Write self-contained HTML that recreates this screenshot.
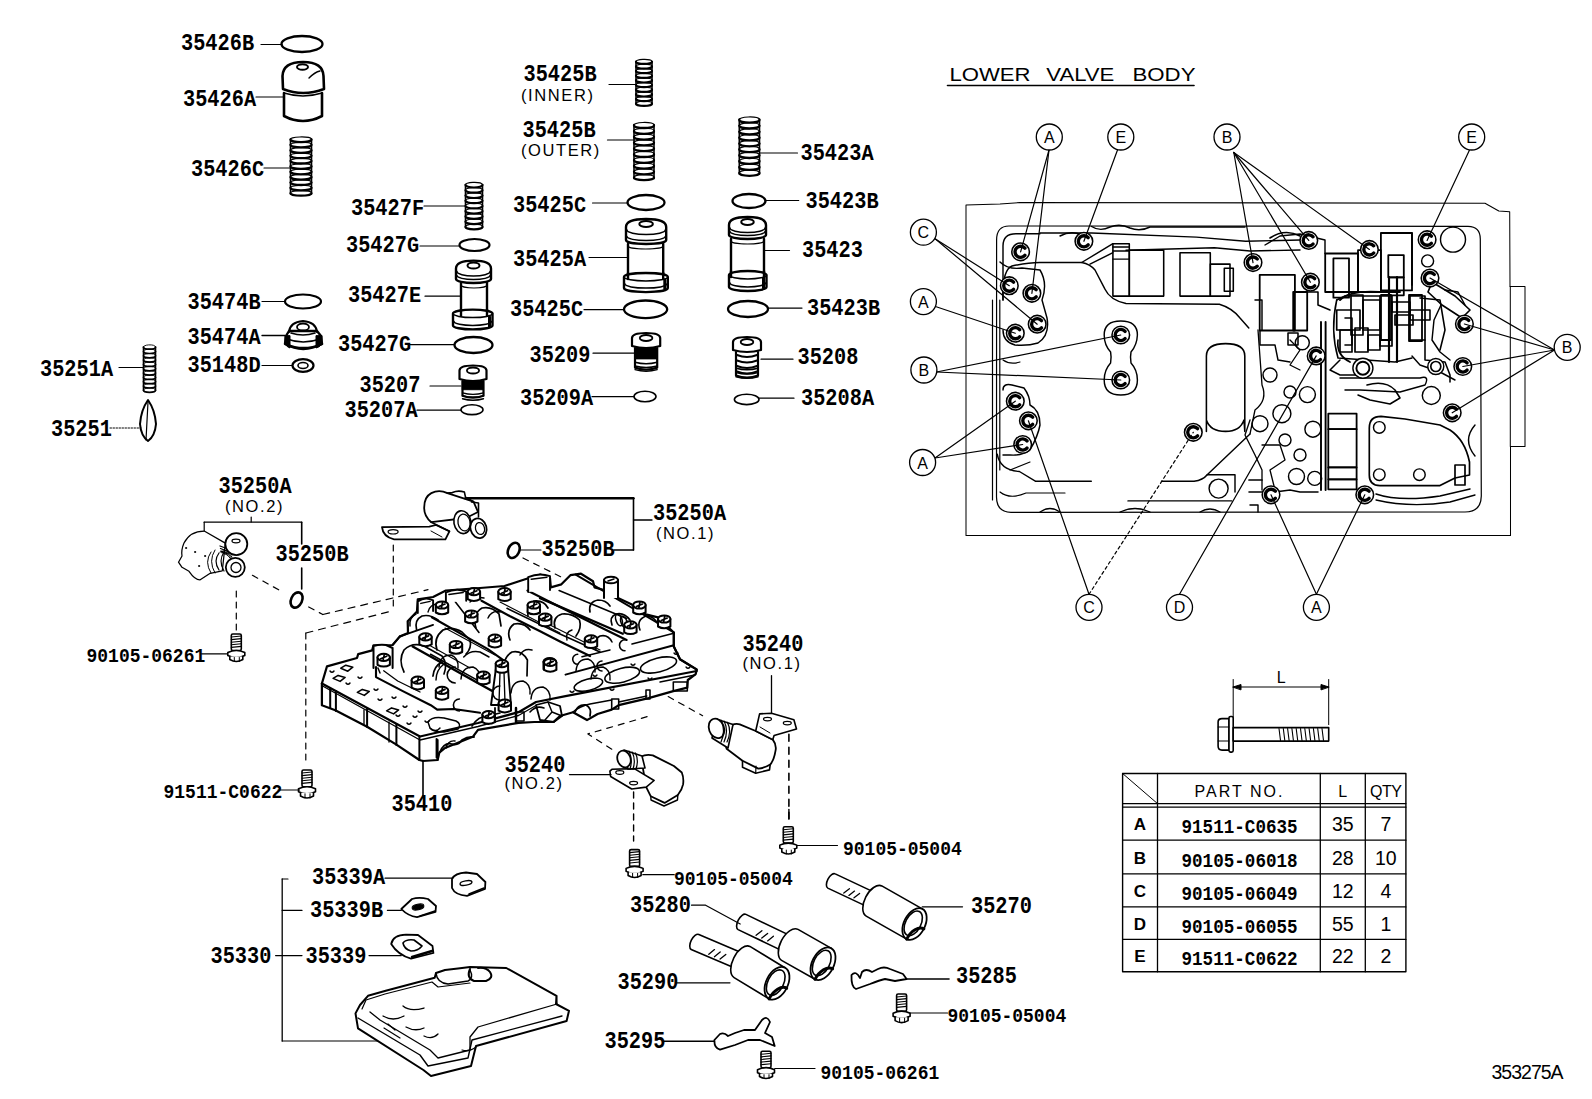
<!DOCTYPE html>
<html><head><meta charset="utf-8"><style>
html,body{margin:0;padding:0;background:#fff;}
svg{position:absolute;left:0;top:0;}
.m{font-family:"Liberation Mono",monospace;font-weight:bold;fill:#000;}
.t{font-family:"Liberation Sans",sans-serif;fill:#000;}
line,polyline,polygon,path,ellipse,rect,circle{stroke:#000;stroke-linecap:round;stroke-linejoin:round;}
text{stroke:none;}
</style></head><body>
<svg width="1592" height="1099" viewBox="0 0 1592 1099">

<text transform="translate(181.00,50.00) scale(1,1.22)" class="m" font-size="20.3">35426</text>
<text transform="translate(241.90,50.00) scale(1,1.08)" class="m" font-size="20.3">B</text>
<text transform="translate(183.00,106.00) scale(1,1.22)" class="m" font-size="20.3">35426</text>
<text transform="translate(243.90,106.00) scale(1,1.08)" class="m" font-size="20.3">A</text>
<text transform="translate(191.00,176.00) scale(1,1.22)" class="m" font-size="20.3">35426</text>
<text transform="translate(251.90,176.00) scale(1,1.08)" class="m" font-size="20.3">C</text>
<text transform="translate(351.00,215.00) scale(1,1.22)" class="m" font-size="20.3">35427</text>
<text transform="translate(411.90,215.00) scale(1,1.08)" class="m" font-size="20.3">F</text>
<text transform="translate(346.00,252.00) scale(1,1.22)" class="m" font-size="20.3">35427</text>
<text transform="translate(406.90,252.00) scale(1,1.08)" class="m" font-size="20.3">G</text>
<text transform="translate(348.00,302.00) scale(1,1.22)" class="m" font-size="20.3">35427</text>
<text transform="translate(408.90,302.00) scale(1,1.08)" class="m" font-size="20.3">E</text>
<text transform="translate(338.00,351.00) scale(1,1.22)" class="m" font-size="20.3">35427</text>
<text transform="translate(398.90,351.00) scale(1,1.08)" class="m" font-size="20.3">G</text>
<text transform="translate(359.50,392.00) scale(1,1.22)" class="m" font-size="20.3">35207</text>
<text transform="translate(344.50,416.50) scale(1,1.22)" class="m" font-size="20.3">35207</text>
<text transform="translate(405.40,416.50) scale(1,1.08)" class="m" font-size="20.3">A</text>
<text transform="translate(187.50,308.50) scale(1,1.22)" class="m" font-size="20.3">35474</text>
<text transform="translate(248.40,308.50) scale(1,1.08)" class="m" font-size="20.3">B</text>
<text transform="translate(187.50,343.50) scale(1,1.22)" class="m" font-size="20.3">35474</text>
<text transform="translate(248.40,343.50) scale(1,1.08)" class="m" font-size="20.3">A</text>
<text transform="translate(187.50,372.00) scale(1,1.22)" class="m" font-size="20.3">35148</text>
<text transform="translate(248.40,372.00) scale(1,1.08)" class="m" font-size="20.3">D</text>
<text transform="translate(40.00,376.00) scale(1,1.22)" class="m" font-size="20.3">35251</text>
<text transform="translate(100.90,376.00) scale(1,1.08)" class="m" font-size="20.3">A</text>
<text transform="translate(51.00,436.00) scale(1,1.22)" class="m" font-size="20.3">35251</text>
<text transform="translate(523.50,80.50) scale(1,1.22)" class="m" font-size="20.3">35425</text>
<text transform="translate(584.40,80.50) scale(1,1.08)" class="m" font-size="20.3">B</text>
<text transform="translate(522.50,137.00) scale(1,1.22)" class="m" font-size="20.3">35425</text>
<text transform="translate(583.40,137.00) scale(1,1.08)" class="m" font-size="20.3">B</text>
<text transform="translate(513.00,212.00) scale(1,1.22)" class="m" font-size="20.3">35425</text>
<text transform="translate(573.90,212.00) scale(1,1.08)" class="m" font-size="20.3">C</text>
<text transform="translate(513.00,265.50) scale(1,1.22)" class="m" font-size="20.3">35425</text>
<text transform="translate(573.90,265.50) scale(1,1.08)" class="m" font-size="20.3">A</text>
<text transform="translate(510.00,316.00) scale(1,1.22)" class="m" font-size="20.3">35425</text>
<text transform="translate(570.90,316.00) scale(1,1.08)" class="m" font-size="20.3">C</text>
<text transform="translate(529.50,362.00) scale(1,1.22)" class="m" font-size="20.3">35209</text>
<text transform="translate(520.00,404.50) scale(1,1.22)" class="m" font-size="20.3">35209</text>
<text transform="translate(580.90,404.50) scale(1,1.08)" class="m" font-size="20.3">A</text>
<text transform="translate(800.50,159.50) scale(1,1.22)" class="m" font-size="20.3">35423</text>
<text transform="translate(861.40,159.50) scale(1,1.08)" class="m" font-size="20.3">A</text>
<text transform="translate(805.50,208.00) scale(1,1.22)" class="m" font-size="20.3">35423</text>
<text transform="translate(866.40,208.00) scale(1,1.08)" class="m" font-size="20.3">B</text>
<text transform="translate(802.00,257.00) scale(1,1.22)" class="m" font-size="20.3">35423</text>
<text transform="translate(807.00,315.00) scale(1,1.22)" class="m" font-size="20.3">35423</text>
<text transform="translate(867.90,315.00) scale(1,1.08)" class="m" font-size="20.3">B</text>
<text transform="translate(797.50,364.00) scale(1,1.22)" class="m" font-size="20.3">35208</text>
<text transform="translate(801.00,405.00) scale(1,1.22)" class="m" font-size="20.3">35208</text>
<text transform="translate(861.90,405.00) scale(1,1.08)" class="m" font-size="20.3">A</text>
<text transform="translate(218.50,493.00) scale(1,1.22)" class="m" font-size="20.3">35250</text>
<text transform="translate(279.40,493.00) scale(1,1.08)" class="m" font-size="20.3">A</text>
<text transform="translate(275.50,561.00) scale(1,1.22)" class="m" font-size="20.3">35250</text>
<text transform="translate(336.40,561.00) scale(1,1.08)" class="m" font-size="20.3">B</text>
<text transform="translate(653.00,520.00) scale(1,1.22)" class="m" font-size="20.3">35250</text>
<text transform="translate(713.90,520.00) scale(1,1.08)" class="m" font-size="20.3">A</text>
<text transform="translate(541.50,555.50) scale(1,1.22)" class="m" font-size="20.3">35250</text>
<text transform="translate(602.40,555.50) scale(1,1.08)" class="m" font-size="20.3">B</text>
<text transform="translate(742.50,650.50) scale(1,1.22)" class="m" font-size="20.3">35240</text>
<text transform="translate(504.50,771.50) scale(1,1.22)" class="m" font-size="20.3">35240</text>
<text transform="translate(391.50,810.50) scale(1,1.22)" class="m" font-size="20.3">35410</text>
<text transform="translate(312.00,883.50) scale(1,1.22)" class="m" font-size="20.3">35339</text>
<text transform="translate(372.90,883.50) scale(1,1.08)" class="m" font-size="20.3">A</text>
<text transform="translate(310.00,916.50) scale(1,1.22)" class="m" font-size="20.3">35339</text>
<text transform="translate(370.90,916.50) scale(1,1.08)" class="m" font-size="20.3">B</text>
<text transform="translate(305.50,962.50) scale(1,1.22)" class="m" font-size="20.3">35339</text>
<text transform="translate(210.50,962.50) scale(1,1.22)" class="m" font-size="20.3">35330</text>
<text transform="translate(630.00,911.50) scale(1,1.22)" class="m" font-size="20.3">35280</text>
<text transform="translate(971.00,913.00) scale(1,1.22)" class="m" font-size="20.3">35270</text>
<text transform="translate(617.50,989.00) scale(1,1.22)" class="m" font-size="20.3">35290</text>
<text transform="translate(956.00,983.00) scale(1,1.22)" class="m" font-size="20.3">35285</text>
<text transform="translate(604.50,1047.50) scale(1,1.22)" class="m" font-size="20.3">35295</text>
<text transform="translate(86.50,662.00) scale(1,1.09)" class="m" font-size="18.0">90105-06261</text>
<text transform="translate(163.50,797.50) scale(1,1.09)" class="m" font-size="18.0">91511-</text>
<text transform="translate(228.30,797.50) scale(1,1.09)" class="m" font-size="18.0">C</text>
<text transform="translate(239.10,797.50) scale(1,1.09)" class="m" font-size="18.0">0622</text>
<text transform="translate(674.00,884.50) scale(1,1.09)" class="m" font-size="18.0">90105-05004</text>
<text transform="translate(843.00,855.00) scale(1,1.09)" class="m" font-size="18.0">90105-05004</text>
<text transform="translate(947.50,1021.50) scale(1,1.09)" class="m" font-size="18.0">90105-05004</text>
<text transform="translate(820.50,1078.50) scale(1,1.09)" class="m" font-size="18.0">90105-06261</text>
<text transform="translate(521.00,101.00) scale(1,1.0)" class="t" font-size="16.5" letter-spacing="1.6" word-spacing="0" text-anchor="start">(INNER)</text>
<text transform="translate(521.00,156.00) scale(1,1.0)" class="t" font-size="16.5" letter-spacing="1.6" word-spacing="0" text-anchor="start">(OUTER)</text>
<text transform="translate(225.00,511.50) scale(1,1.0)" class="t" font-size="16.5" letter-spacing="1.6" word-spacing="0" text-anchor="start">(NO.2)</text>
<text transform="translate(656.00,538.50) scale(1,1.0)" class="t" font-size="16.5" letter-spacing="1.6" word-spacing="0" text-anchor="start">(NO.1)</text>
<text transform="translate(742.50,668.50) scale(1,1.0)" class="t" font-size="16.5" letter-spacing="1.6" word-spacing="0" text-anchor="start">(NO.1)</text>
<text transform="translate(504.50,788.50) scale(1,1.0)" class="t" font-size="16.5" letter-spacing="1.6" word-spacing="0" text-anchor="start">(NO.2)</text>
<text class="t" x="949.5" y="80.5" font-size="18.5" textLength="81" lengthAdjust="spacingAndGlyphs">LOWER</text>
<text class="t" x="1046.3" y="80.5" font-size="18.5" textLength="68" lengthAdjust="spacingAndGlyphs">VALVE</text>
<text class="t" x="1132.5" y="80.5" font-size="18.5" textLength="63" lengthAdjust="spacingAndGlyphs">BODY</text>
<line x1="947.5" y1="85.5" x2="1194.0" y2="85.5" stroke-width="1.6"/>
<text transform="translate(1491.50,1078.50) scale(1,1.0)" class="t" font-size="19.5" letter-spacing="-1" word-spacing="0" text-anchor="start">353275A</text>
<line x1="261.0" y1="44.5" x2="282.0" y2="44.5" stroke-width="1.2"/>
<ellipse cx="302.0" cy="44.0" rx="20.5" ry="8.0" stroke-width="2.3" fill="none"/>
<line x1="256.0" y1="97.0" x2="284.0" y2="97.0" stroke-width="1.2"/>
<path d="M283,89 L282.5,76 Q283,62 303,62 Q323,62 323.5,76 L324,89 Q303,97 283,89 Z" stroke-width="2.6" fill="none"/>
<ellipse cx="302.5" cy="67.0" rx="5.5" ry="2.8" stroke-width="2.0" fill="none"/>
<path d="M309,78 Q315,72 320,71" stroke-width="1.4" fill="none"/>
<path d="M284,93 L284,116 Q303,126 322,116 L322,93" stroke-width="2.6" fill="none"/>
<path d="M284,93 Q303,99 322,93" stroke-width="1.4" fill="none"/>
<line x1="264.0" y1="168.0" x2="291.0" y2="168.0" stroke-width="1.2"/>
<path d="M290.5,139.7 A10.5,2.4 0 0 0 311.5,139.7" stroke-width="2.3" fill="none"/>
<path d="M290.5,139.7 A10.5,2.4 0 0 1 311.5,139.1" stroke-width="1.2" fill="none"/>
<path d="M290.5,145.0 A10.5,2.4 0 0 0 311.5,145.0" stroke-width="2.3" fill="none"/>
<path d="M290.5,145.0 A10.5,2.4 0 0 1 311.5,144.4" stroke-width="1.2" fill="none"/>
<path d="M290.5,150.4 A10.5,2.4 0 0 0 311.5,150.4" stroke-width="2.3" fill="none"/>
<path d="M290.5,150.4 A10.5,2.4 0 0 1 311.5,149.8" stroke-width="1.2" fill="none"/>
<path d="M290.5,155.8 A10.5,2.4 0 0 0 311.5,155.8" stroke-width="2.3" fill="none"/>
<path d="M290.5,155.8 A10.5,2.4 0 0 1 311.5,155.2" stroke-width="1.2" fill="none"/>
<path d="M290.5,161.1 A10.5,2.4 0 0 0 311.5,161.1" stroke-width="2.3" fill="none"/>
<path d="M290.5,161.1 A10.5,2.4 0 0 1 311.5,160.5" stroke-width="1.2" fill="none"/>
<path d="M290.5,166.5 A10.5,2.4 0 0 0 311.5,166.5" stroke-width="2.3" fill="none"/>
<path d="M290.5,166.5 A10.5,2.4 0 0 1 311.5,165.9" stroke-width="1.2" fill="none"/>
<path d="M290.5,171.9 A10.5,2.4 0 0 0 311.5,171.9" stroke-width="2.3" fill="none"/>
<path d="M290.5,171.9 A10.5,2.4 0 0 1 311.5,171.3" stroke-width="1.2" fill="none"/>
<path d="M290.5,177.2 A10.5,2.4 0 0 0 311.5,177.2" stroke-width="2.3" fill="none"/>
<path d="M290.5,177.2 A10.5,2.4 0 0 1 311.5,176.6" stroke-width="1.2" fill="none"/>
<path d="M290.5,182.6 A10.5,2.4 0 0 0 311.5,182.6" stroke-width="2.3" fill="none"/>
<path d="M290.5,182.6 A10.5,2.4 0 0 1 311.5,182.0" stroke-width="1.2" fill="none"/>
<path d="M290.5,188.0 A10.5,2.4 0 0 0 311.5,188.0" stroke-width="2.3" fill="none"/>
<path d="M290.5,188.0 A10.5,2.4 0 0 1 311.5,187.4" stroke-width="1.2" fill="none"/>
<path d="M290.5,193.3 A10.5,2.4 0 0 0 311.5,193.3" stroke-width="2.3" fill="none"/>
<path d="M290.5,193.3 A10.5,2.4 0 0 1 311.5,192.7" stroke-width="1.2" fill="none"/>
<line x1="290.5" y1="139.0" x2="290.5" y2="194.0" stroke-width="1.6"/>
<line x1="311.5" y1="139.0" x2="311.5" y2="194.0" stroke-width="1.6"/>
<line x1="424.0" y1="206.0" x2="465.0" y2="206.0" stroke-width="1.2"/>
<path d="M465.5,185.1 A8.5,2.4 0 0 0 482.5,185.1" stroke-width="2.18" fill="none"/>
<path d="M465.5,185.1 A8.5,2.4 0 0 1 482.5,184.5" stroke-width="1.14" fill="none"/>
<path d="M465.5,190.3 A8.5,2.4 0 0 0 482.5,190.3" stroke-width="2.18" fill="none"/>
<path d="M465.5,190.3 A8.5,2.4 0 0 1 482.5,189.7" stroke-width="1.14" fill="none"/>
<path d="M465.5,195.6 A8.5,2.4 0 0 0 482.5,195.6" stroke-width="2.18" fill="none"/>
<path d="M465.5,195.6 A8.5,2.4 0 0 1 482.5,195.0" stroke-width="1.14" fill="none"/>
<path d="M465.5,200.8 A8.5,2.4 0 0 0 482.5,200.8" stroke-width="2.18" fill="none"/>
<path d="M465.5,200.8 A8.5,2.4 0 0 1 482.5,200.2" stroke-width="1.14" fill="none"/>
<path d="M465.5,206.0 A8.5,2.4 0 0 0 482.5,206.0" stroke-width="2.18" fill="none"/>
<path d="M465.5,206.0 A8.5,2.4 0 0 1 482.5,205.4" stroke-width="1.14" fill="none"/>
<path d="M465.5,211.2 A8.5,2.4 0 0 0 482.5,211.2" stroke-width="2.18" fill="none"/>
<path d="M465.5,211.2 A8.5,2.4 0 0 1 482.5,210.6" stroke-width="1.14" fill="none"/>
<path d="M465.5,216.4 A8.5,2.4 0 0 0 482.5,216.4" stroke-width="2.18" fill="none"/>
<path d="M465.5,216.4 A8.5,2.4 0 0 1 482.5,215.8" stroke-width="1.14" fill="none"/>
<path d="M465.5,221.7 A8.5,2.4 0 0 0 482.5,221.7" stroke-width="2.18" fill="none"/>
<path d="M465.5,221.7 A8.5,2.4 0 0 1 482.5,221.1" stroke-width="1.14" fill="none"/>
<path d="M465.5,226.9 A8.5,2.4 0 0 0 482.5,226.9" stroke-width="2.18" fill="none"/>
<path d="M465.5,226.9 A8.5,2.4 0 0 1 482.5,226.3" stroke-width="1.14" fill="none"/>
<line x1="465.5" y1="184.5" x2="465.5" y2="227.5" stroke-width="1.6"/>
<line x1="482.5" y1="184.5" x2="482.5" y2="227.5" stroke-width="1.6"/>
<line x1="420.0" y1="246.0" x2="459.5" y2="246.0" stroke-width="1.2"/>
<ellipse cx="474.5" cy="245.0" rx="15.0" ry="6.0" stroke-width="2.2" fill="none"/>
<line x1="425.0" y1="296.2" x2="460.0" y2="296.2" stroke-width="1.2"/>
<path d="M456,279 L456,268.6 Q456,260.6 473.5,260.6 Q491,260.6 491,268.6 L491,279 A17.5,4 0 0 1 456,279 Z" stroke-width="2.4" fill="#fff"/>
<ellipse cx="473.5" cy="265.6" rx="6.0" ry="3.0" stroke-width="2.0" fill="none"/>
<path d="M457,271.6 A16.5,4.5 0 0 0 490,271.6" stroke-width="1.5" fill="none"/>
<path d="M457,275.5 A16.5,4 0 0 0 490,275.5" stroke-width="1.4" fill="none"/>
<line x1="461.0" y1="283.0" x2="461.0" y2="311.6" stroke-width="2.4"/>
<line x1="487.0" y1="283.0" x2="487.0" y2="311.6" stroke-width="2.4"/>
<path d="M461,285 A13.0,3 0 0 0 487,285" stroke-width="1.2" fill="none"/>
<path d="M453,313.6 A19.75,4 0 0 1 492.5,313.6 L492.5,325.4 A19.75,4 0 0 1 453,325.4 Z" stroke-width="2.4" fill="#fff"/>
<path d="M453,313.6 A19.75,4 0 0 0 492.5,313.6" stroke-width="1.5" fill="none"/>
<path d="M454,321.4 A18.75,4 0 0 0 491.5,321.4" stroke-width="1.5" fill="none"/>
<path d="M489.5,316.6 L489.5,326.4" stroke-width="3.0" fill="none"/>
<line x1="461.0" y1="309.6" x2="461.0" y2="315.6" stroke-width="2.4"/>
<line x1="487.0" y1="309.6" x2="487.0" y2="315.6" stroke-width="2.4"/>
<line x1="410.0" y1="344.7" x2="454.5" y2="344.7" stroke-width="1.2"/>
<ellipse cx="473.5" cy="345.0" rx="19.0" ry="8.0" stroke-width="2.3" fill="none"/>
<line x1="430.0" y1="386.0" x2="461.0" y2="386.0" stroke-width="1.2"/>
<path d="M459.5,379 L459.5,370.5 Q459.5,365.5 473.0,365.5 Q486.5,365.5 486.5,370.5 L486.5,379 Q473.0,383 459.5,379 Z" stroke-width="2.2" fill="none"/>
<ellipse cx="473.0" cy="370.5" rx="6.1" ry="3.0" stroke-width="1.8" fill="none"/>
<path d="M462.5,381 L462.5,395.7 Q473.0,399.7 483.5,395.7 L483.5,381" stroke-width="2.2" fill="none"/>
<rect x="462.5" y="381.0" width="21.0" height="8.9" rx="0" stroke-width="0.5" fill="#000"/>
<path d="M462.5,392.85 Q473.0,395.85 483.5,392.85" stroke-width="1.4" fill="none"/>
<path d="M462.5,395.805 Q473.0,398.805 483.5,395.805" stroke-width="1.4" fill="none"/>
<path d="M462.5,398.76 Q473.0,401.76 483.5,398.76" stroke-width="1.4" fill="none"/>
<line x1="417.0" y1="410.2" x2="461.0" y2="410.2" stroke-width="1.2"/>
<ellipse cx="472.0" cy="409.7" rx="11.0" ry="4.9" stroke-width="1.6" fill="none"/>
<line x1="262.0" y1="301.5" x2="285.0" y2="301.5" stroke-width="1.2"/>
<ellipse cx="303.0" cy="301.5" rx="18.0" ry="7.0" stroke-width="2.2" fill="none"/>
<line x1="262.0" y1="335.5" x2="285.0" y2="335.5" stroke-width="1.4"/>
<path d="M289,332 Q290,322 303,321 Q316,322 317,332" stroke-width="2.2" fill="none"/>
<ellipse cx="303.0" cy="327.0" rx="6.0" ry="3.5" stroke-width="1.8" fill="none"/>
<path d="M286,336 L289,331 L317,331 L321,336 L322,344 Q303,354 285,344 Z" stroke-width="2.4" fill="none"/>
<path d="M285,336 L285,344 Q287,347 290,348 L290,336 Z" stroke-width="1.0" fill="#000"/>
<path d="M322,336 L322,344 Q320,347 316,348 L316,336 Z" stroke-width="1.0" fill="#000"/>
<path d="M287,339 Q303,345 320,339" stroke-width="1.6" fill="none"/>
<path d="M286,344 Q303,352 322,344" stroke-width="2.4" fill="none"/>
<path d="M291,333 Q303,337 315,333" stroke-width="1.6" fill="none"/>
<line x1="262.0" y1="365.5" x2="292.0" y2="365.5" stroke-width="1.2"/>
<ellipse cx="303.0" cy="365.5" rx="10.5" ry="6.3" stroke-width="2.2" fill="none"/>
<ellipse cx="303.0" cy="365.5" rx="5.0" ry="3.0" stroke-width="1.6" fill="none"/>
<line x1="119.0" y1="367.5" x2="143.0" y2="367.5" stroke-width="1.2"/>
<path d="M143.5,347.2 A6.0,2.0 0 0 0 155.5,347.2" stroke-width="1.72" fill="none"/>
<path d="M143.5,347.2 A6.0,2.0 0 0 1 155.5,346.6" stroke-width="0.9" fill="none"/>
<path d="M143.5,351.5 A6.0,2.0 0 0 0 155.5,351.5" stroke-width="1.72" fill="none"/>
<path d="M143.5,351.5 A6.0,2.0 0 0 1 155.5,350.9" stroke-width="0.9" fill="none"/>
<path d="M143.5,355.8 A6.0,2.0 0 0 0 155.5,355.8" stroke-width="1.72" fill="none"/>
<path d="M143.5,355.8 A6.0,2.0 0 0 1 155.5,355.2" stroke-width="0.9" fill="none"/>
<path d="M143.5,360.1 A6.0,2.0 0 0 0 155.5,360.1" stroke-width="1.72" fill="none"/>
<path d="M143.5,360.1 A6.0,2.0 0 0 1 155.5,359.5" stroke-width="0.9" fill="none"/>
<path d="M143.5,364.4 A6.0,2.0 0 0 0 155.5,364.4" stroke-width="1.72" fill="none"/>
<path d="M143.5,364.4 A6.0,2.0 0 0 1 155.5,363.8" stroke-width="0.9" fill="none"/>
<path d="M143.5,368.8 A6.0,2.0 0 0 0 155.5,368.8" stroke-width="1.72" fill="none"/>
<path d="M143.5,368.8 A6.0,2.0 0 0 1 155.5,368.1" stroke-width="0.9" fill="none"/>
<path d="M143.5,373.1 A6.0,2.0 0 0 0 155.5,373.1" stroke-width="1.72" fill="none"/>
<path d="M143.5,373.1 A6.0,2.0 0 0 1 155.5,372.5" stroke-width="0.9" fill="none"/>
<path d="M143.5,377.4 A6.0,2.0 0 0 0 155.5,377.4" stroke-width="1.72" fill="none"/>
<path d="M143.5,377.4 A6.0,2.0 0 0 1 155.5,376.8" stroke-width="0.9" fill="none"/>
<path d="M143.5,381.7 A6.0,2.0 0 0 0 155.5,381.7" stroke-width="1.72" fill="none"/>
<path d="M143.5,381.7 A6.0,2.0 0 0 1 155.5,381.1" stroke-width="0.9" fill="none"/>
<path d="M143.5,386.0 A6.0,2.0 0 0 0 155.5,386.0" stroke-width="1.72" fill="none"/>
<path d="M143.5,386.0 A6.0,2.0 0 0 1 155.5,385.4" stroke-width="0.9" fill="none"/>
<path d="M143.5,390.3 A6.0,2.0 0 0 0 155.5,390.3" stroke-width="1.72" fill="none"/>
<path d="M143.5,390.3 A6.0,2.0 0 0 1 155.5,389.7" stroke-width="0.9" fill="none"/>
<line x1="143.5" y1="347.0" x2="143.5" y2="390.5" stroke-width="1.6"/>
<line x1="155.5" y1="347.0" x2="155.5" y2="390.5" stroke-width="1.6"/>
<line x1="110.0" y1="428.0" x2="141.0" y2="428.0" stroke-width="1.0" stroke-dasharray="1.5 1.5"/>
<path d="M148,400 Q141,410 140,424 Q141,436 148,441 Q155,436 156,424 Q155,410 148,400 Z" stroke-width="2.0" fill="none"/>
<path d="M148,402 L146,440" stroke-width="1.2" fill="none"/>
<line x1="609.0" y1="84.5" x2="636.0" y2="84.5" stroke-width="1.2"/>
<path d="M636.0,61.8 A8.0,2.1 0 0 0 652.0,61.8" stroke-width="2.18" fill="none"/>
<path d="M636.0,61.8 A8.0,2.1 0 0 1 652.0,61.2" stroke-width="1.14" fill="none"/>
<path d="M636.0,66.5 A8.0,2.1 0 0 0 652.0,66.5" stroke-width="2.18" fill="none"/>
<path d="M636.0,66.5 A8.0,2.1 0 0 1 652.0,65.9" stroke-width="1.14" fill="none"/>
<path d="M636.0,71.1 A8.0,2.1 0 0 0 652.0,71.1" stroke-width="2.18" fill="none"/>
<path d="M636.0,71.1 A8.0,2.1 0 0 1 652.0,70.5" stroke-width="1.14" fill="none"/>
<path d="M636.0,75.8 A8.0,2.1 0 0 0 652.0,75.8" stroke-width="2.18" fill="none"/>
<path d="M636.0,75.8 A8.0,2.1 0 0 1 652.0,75.2" stroke-width="1.14" fill="none"/>
<path d="M636.0,80.4 A8.0,2.1 0 0 0 652.0,80.4" stroke-width="2.18" fill="none"/>
<path d="M636.0,80.4 A8.0,2.1 0 0 1 652.0,79.8" stroke-width="1.14" fill="none"/>
<path d="M636.0,85.1 A8.0,2.1 0 0 0 652.0,85.1" stroke-width="2.18" fill="none"/>
<path d="M636.0,85.1 A8.0,2.1 0 0 1 652.0,84.5" stroke-width="1.14" fill="none"/>
<path d="M636.0,89.7 A8.0,2.1 0 0 0 652.0,89.7" stroke-width="2.18" fill="none"/>
<path d="M636.0,89.7 A8.0,2.1 0 0 1 652.0,89.1" stroke-width="1.14" fill="none"/>
<path d="M636.0,94.4 A8.0,2.1 0 0 0 652.0,94.4" stroke-width="2.18" fill="none"/>
<path d="M636.0,94.4 A8.0,2.1 0 0 1 652.0,93.8" stroke-width="1.14" fill="none"/>
<path d="M636.0,99.0 A8.0,2.1 0 0 0 652.0,99.0" stroke-width="2.18" fill="none"/>
<path d="M636.0,99.0 A8.0,2.1 0 0 1 652.0,98.4" stroke-width="1.14" fill="none"/>
<path d="M636.0,103.7 A8.0,2.1 0 0 0 652.0,103.7" stroke-width="2.18" fill="none"/>
<path d="M636.0,103.7 A8.0,2.1 0 0 1 652.0,103.1" stroke-width="1.14" fill="none"/>
<line x1="636.0" y1="61.5" x2="636.0" y2="104.0" stroke-width="1.6"/>
<line x1="652.0" y1="61.5" x2="652.0" y2="104.0" stroke-width="1.6"/>
<line x1="607.5" y1="140.0" x2="634.5" y2="140.0" stroke-width="1.2"/>
<path d="M634.0,125.4 A10.0,2.6 0 0 0 654.0,125.4" stroke-width="2.3" fill="none"/>
<path d="M634.0,125.4 A10.0,2.6 0 0 1 654.0,124.8" stroke-width="1.2" fill="none"/>
<path d="M634.0,131.2 A10.0,2.6 0 0 0 654.0,131.2" stroke-width="2.3" fill="none"/>
<path d="M634.0,131.2 A10.0,2.6 0 0 1 654.0,130.6" stroke-width="1.2" fill="none"/>
<path d="M634.0,137.0 A10.0,2.6 0 0 0 654.0,137.0" stroke-width="2.3" fill="none"/>
<path d="M634.0,137.0 A10.0,2.6 0 0 1 654.0,136.4" stroke-width="1.2" fill="none"/>
<path d="M634.0,142.8 A10.0,2.6 0 0 0 654.0,142.8" stroke-width="2.3" fill="none"/>
<path d="M634.0,142.8 A10.0,2.6 0 0 1 654.0,142.2" stroke-width="1.2" fill="none"/>
<path d="M634.0,148.6 A10.0,2.6 0 0 0 654.0,148.6" stroke-width="2.3" fill="none"/>
<path d="M634.0,148.6 A10.0,2.6 0 0 1 654.0,148.0" stroke-width="1.2" fill="none"/>
<path d="M634.0,154.4 A10.0,2.6 0 0 0 654.0,154.4" stroke-width="2.3" fill="none"/>
<path d="M634.0,154.4 A10.0,2.6 0 0 1 654.0,153.8" stroke-width="1.2" fill="none"/>
<path d="M634.0,160.2 A10.0,2.6 0 0 0 654.0,160.2" stroke-width="2.3" fill="none"/>
<path d="M634.0,160.2 A10.0,2.6 0 0 1 654.0,159.6" stroke-width="1.2" fill="none"/>
<path d="M634.0,166.0 A10.0,2.6 0 0 0 654.0,166.0" stroke-width="2.3" fill="none"/>
<path d="M634.0,166.0 A10.0,2.6 0 0 1 654.0,165.4" stroke-width="1.2" fill="none"/>
<path d="M634.0,171.8 A10.0,2.6 0 0 0 654.0,171.8" stroke-width="2.3" fill="none"/>
<path d="M634.0,171.8 A10.0,2.6 0 0 1 654.0,171.2" stroke-width="1.2" fill="none"/>
<path d="M634.0,177.6 A10.0,2.6 0 0 0 654.0,177.6" stroke-width="2.3" fill="none"/>
<path d="M634.0,177.6 A10.0,2.6 0 0 1 654.0,177.0" stroke-width="1.2" fill="none"/>
<line x1="634.0" y1="124.5" x2="634.0" y2="178.5" stroke-width="1.6"/>
<line x1="654.0" y1="124.5" x2="654.0" y2="178.5" stroke-width="1.6"/>
<line x1="592.5" y1="203.0" x2="628.0" y2="203.0" stroke-width="1.2"/>
<ellipse cx="646.0" cy="202.5" rx="18.5" ry="7.5" stroke-width="2.3" fill="none"/>
<line x1="589.0" y1="257.5" x2="627.5" y2="257.5" stroke-width="1.2"/>
<path d="M626,240 L626,227 Q626,219 646.1,219 Q666.2,219 666.2,227 L666.2,240 A20.100000000000023,4 0 0 1 626,240 Z" stroke-width="2.4" fill="#fff"/>
<ellipse cx="646.1" cy="224.0" rx="6.8" ry="3.0" stroke-width="2.0" fill="none"/>
<path d="M627,230 A19.100000000000023,4.5 0 0 0 665.2,230" stroke-width="1.5" fill="none"/>
<path d="M627,236.5 A19.100000000000023,4 0 0 0 665.2,236.5" stroke-width="1.4" fill="none"/>
<line x1="628.0" y1="244.0" x2="628.0" y2="275.0" stroke-width="2.4"/>
<line x1="663.2" y1="244.0" x2="663.2" y2="275.0" stroke-width="2.4"/>
<path d="M628,246 A17.600000000000023,3 0 0 0 663.2,246" stroke-width="1.2" fill="none"/>
<path d="M624,277 A21.899999999999977,4 0 0 1 667.8,277 L667.8,288.1 A21.899999999999977,4 0 0 1 624,288.1 Z" stroke-width="2.4" fill="#fff"/>
<path d="M624,277 A21.899999999999977,4 0 0 0 667.8,277" stroke-width="1.5" fill="none"/>
<path d="M625,284.1 A20.899999999999977,4 0 0 0 666.8,284.1" stroke-width="1.5" fill="none"/>
<path d="M664.8,280 L664.8,289.1" stroke-width="3.0" fill="none"/>
<line x1="628.0" y1="273.0" x2="628.0" y2="279.0" stroke-width="2.4"/>
<line x1="663.2" y1="273.0" x2="663.2" y2="279.0" stroke-width="2.4"/>
<line x1="584.0" y1="309.7" x2="624.0" y2="309.7" stroke-width="1.2"/>
<ellipse cx="645.6" cy="309.3" rx="21.6" ry="8.8" stroke-width="2.3" fill="none"/>
<line x1="593.0" y1="353.2" x2="636.0" y2="353.2" stroke-width="1.2"/>
<path d="M632,346 L632,338 Q632,333 646.1,333 Q660.2,333 660.2,338 L660.2,346 Q646.1,350 632,346 Z" stroke-width="2.2" fill="none"/>
<ellipse cx="646.1" cy="338.0" rx="6.3" ry="3.0" stroke-width="1.8" fill="none"/>
<path d="M635,348 L635,367.6 Q646.1,371.6 657.2,367.6 L657.2,348" stroke-width="2.2" fill="none"/>
<rect x="635.0" y="348.0" width="22.2" height="11.1" rx="0" stroke-width="0.5" fill="#000"/>
<path d="M635,362.3 Q646.1,365.3 657.2,362.3" stroke-width="1.4" fill="none"/>
<path d="M635,365.99 Q646.1,368.99 657.2,365.99" stroke-width="1.4" fill="none"/>
<path d="M635,369.68 Q646.1,372.68 657.2,369.68" stroke-width="1.4" fill="none"/>
<line x1="592.0" y1="396.6" x2="634.0" y2="396.6" stroke-width="1.2"/>
<ellipse cx="645.0" cy="396.5" rx="11.0" ry="5.3" stroke-width="1.6" fill="none"/>
<path d="M739.3,120.0 A10.1,2.7 0 0 0 759.5,120.0" stroke-width="2.3" fill="none"/>
<path d="M739.3,120.0 A10.1,2.7 0 0 1 759.5,119.4" stroke-width="1.2" fill="none"/>
<path d="M739.3,125.8 A10.1,2.7 0 0 0 759.5,125.8" stroke-width="2.3" fill="none"/>
<path d="M739.3,125.8 A10.1,2.7 0 0 1 759.5,125.2" stroke-width="1.2" fill="none"/>
<path d="M739.3,131.8 A10.1,2.7 0 0 0 759.5,131.8" stroke-width="2.3" fill="none"/>
<path d="M739.3,131.8 A10.1,2.7 0 0 1 759.5,131.2" stroke-width="1.2" fill="none"/>
<path d="M739.3,137.7 A10.1,2.7 0 0 0 759.5,137.7" stroke-width="2.3" fill="none"/>
<path d="M739.3,137.7 A10.1,2.7 0 0 1 759.5,137.1" stroke-width="1.2" fill="none"/>
<path d="M739.3,143.6 A10.1,2.7 0 0 0 759.5,143.6" stroke-width="2.3" fill="none"/>
<path d="M739.3,143.6 A10.1,2.7 0 0 1 759.5,143.0" stroke-width="1.2" fill="none"/>
<path d="M739.3,149.4 A10.1,2.7 0 0 0 759.5,149.4" stroke-width="2.3" fill="none"/>
<path d="M739.3,149.4 A10.1,2.7 0 0 1 759.5,148.8" stroke-width="1.2" fill="none"/>
<path d="M739.3,155.3 A10.1,2.7 0 0 0 759.5,155.3" stroke-width="2.3" fill="none"/>
<path d="M739.3,155.3 A10.1,2.7 0 0 1 759.5,154.8" stroke-width="1.2" fill="none"/>
<path d="M739.3,161.2 A10.1,2.7 0 0 0 759.5,161.2" stroke-width="2.3" fill="none"/>
<path d="M739.3,161.2 A10.1,2.7 0 0 1 759.5,160.7" stroke-width="1.2" fill="none"/>
<path d="M739.3,167.2 A10.1,2.7 0 0 0 759.5,167.2" stroke-width="2.3" fill="none"/>
<path d="M739.3,167.2 A10.1,2.7 0 0 1 759.5,166.6" stroke-width="1.2" fill="none"/>
<path d="M739.3,173.1 A10.1,2.7 0 0 0 759.5,173.1" stroke-width="2.3" fill="none"/>
<path d="M739.3,173.1 A10.1,2.7 0 0 1 759.5,172.5" stroke-width="1.2" fill="none"/>
<line x1="739.3" y1="119.0" x2="739.3" y2="174.0" stroke-width="1.6"/>
<line x1="759.5" y1="119.0" x2="759.5" y2="174.0" stroke-width="1.6"/>
<line x1="760.0" y1="153.0" x2="797.5" y2="153.0" stroke-width="1.2"/>
<ellipse cx="749.0" cy="201.0" rx="16.5" ry="7.0" stroke-width="2.3" fill="none"/>
<line x1="765.5" y1="200.5" x2="798.7" y2="200.5" stroke-width="1.2"/>
<path d="M729,235 L729,225 Q729,217 747.5,217 Q766,217 766,225 L766,235 A18.5,4 0 0 1 729,235 Z" stroke-width="2.4" fill="#fff"/>
<ellipse cx="747.5" cy="222.0" rx="6.3" ry="3.0" stroke-width="2.0" fill="none"/>
<path d="M730,228 A17.5,4.5 0 0 0 765,228" stroke-width="1.5" fill="none"/>
<path d="M730,231.5 A17.5,4 0 0 0 765,231.5" stroke-width="1.4" fill="none"/>
<line x1="731.0" y1="239.0" x2="731.0" y2="273.0" stroke-width="2.4"/>
<line x1="764.0" y1="239.0" x2="764.0" y2="273.0" stroke-width="2.4"/>
<path d="M731,241 A16.5,3 0 0 0 764,241" stroke-width="1.2" fill="none"/>
<path d="M729,275 A18.75,4 0 0 1 766.5,275 L766.5,287 A18.75,4 0 0 1 729,287 Z" stroke-width="2.4" fill="#fff"/>
<path d="M729,275 A18.75,4 0 0 0 766.5,275" stroke-width="1.5" fill="none"/>
<path d="M730,283 A17.75,4 0 0 0 765.5,283" stroke-width="1.5" fill="none"/>
<path d="M763.5,278 L763.5,288" stroke-width="3.0" fill="none"/>
<line x1="731.0" y1="271.0" x2="731.0" y2="277.0" stroke-width="2.4"/>
<line x1="764.0" y1="271.0" x2="764.0" y2="277.0" stroke-width="2.4"/>
<line x1="764.0" y1="250.5" x2="789.5" y2="250.5" stroke-width="1.2"/>
<ellipse cx="748.0" cy="309.0" rx="20.0" ry="8.0" stroke-width="2.3" fill="none"/>
<line x1="768.0" y1="308.1" x2="802.0" y2="308.1" stroke-width="1.2"/>
<path d="M733,350 L733,342 Q733,337 747.0,337 Q761,337 761,342 L761,350 Q747.0,354 733,350 Z" stroke-width="2.2" fill="none"/>
<ellipse cx="747.0" cy="342.0" rx="6.3" ry="3.0" stroke-width="1.8" fill="none"/>
<path d="M736,352 L736,375.6 Q747.0,379.6 758,375.6 L758,352" stroke-width="2.2" fill="none"/>
<path d="M736,368.3 Q747.0,371.3 758,368.3" stroke-width="1.4" fill="none"/>
<path d="M736,372.59000000000003 Q747.0,375.59000000000003 758,372.59000000000003" stroke-width="1.4" fill="none"/>
<path d="M736,376.88 Q747.0,379.88 758,376.88" stroke-width="1.4" fill="none"/>
<path d="M737,355.0 Q747,359.0 757,355.0" stroke-width="2.0" fill="none"/>
<path d="M737,360.5 Q747,364.5 757,360.5" stroke-width="2.0" fill="none"/>
<path d="M737,366.0 Q747,370.0 757,366.0" stroke-width="2.0" fill="none"/>
<path d="M737,371.5 Q747,375.5 757,371.5" stroke-width="2.0" fill="none"/>
<line x1="761.0" y1="359.2" x2="793.0" y2="359.2" stroke-width="1.2"/>
<ellipse cx="746.7" cy="399.4" rx="12.3" ry="5.2" stroke-width="1.6" fill="none"/>
<line x1="759.0" y1="398.2" x2="794.0" y2="398.2" stroke-width="1.2"/>
<polygon points="321.9,683.5 327.0,666.3 357.0,658.0 358.2,654.2 372.2,650.4 373.5,645.3 392.6,645.0 399.6,636.6 408.0,633.0 407.7,621.3 417.0,611.5 417.8,599.4 433.1,597.0 445.9,590.5 466.2,589.0 480.0,588.0 504.5,586.0 528.2,578.2 540.3,574.5 550.0,578.2 550.8,587.3 561.4,584.3 570.4,575.2 581.0,573.7 593.0,581.2 594.5,587.3 604.0,590.0 618.0,598.0 630.8,603.9 645.8,614.4 657.9,617.4 673.8,632.5 673.8,646.5 680.0,659.3 696.7,669.5 695.7,674.1 687.8,680.0 687.3,687.6 673.3,691.1 648.6,698.1 618.7,705.2 611.7,709.6 597.6,714.0 587.0,720.1 573.0,712.2 560.0,716.0 553.7,721.9 534.3,722.0 518.5,722.8 478.0,729.8 472.8,736.8 445.0,748.0 439.3,752.7 437.6,760.0 423.0,761.0 419.4,760.0 396.4,744.6 367.1,726.8 335.3,710.3 321.9,705.2" stroke-width="2.24" fill="#fff"/>
<polyline points="321.9,683.5 420.0,736.5 478.0,723.0 518.5,712.2 536.0,702.0 565.5,696.2 696.7,671.0" stroke-width="2.24" fill="none"/>
<polyline points="323.5,686.5 420.0,740.0 478.0,726.5 518.5,715.5 536.0,705.5" stroke-width="1.34" fill="none"/>
<line x1="330.2" y1="688.0" x2="330.2" y2="708.0" stroke-width="2.02"/>
<line x1="335.9" y1="691.0" x2="335.9" y2="711.0" stroke-width="2.02"/>
<line x1="367.1" y1="708.0" x2="367.1" y2="727.0" stroke-width="2.02"/>
<line x1="396.4" y1="724.0" x2="396.4" y2="745.0" stroke-width="2.02"/>
<line x1="419.4" y1="737.0" x2="419.4" y2="760.0" stroke-width="2.02"/>
<line x1="436.6" y1="739.0" x2="436.6" y2="757.4" stroke-width="2.02"/>
<line x1="364.0" y1="710.0" x2="364.0" y2="724.0" stroke-width="1.34"/>
<line x1="389.0" y1="722.0" x2="389.0" y2="742.0" stroke-width="1.34"/>
<path d="M340.8,668.2 L345.8,665.2 L352.8,667.2 L347.8,671.2 Z" stroke-width="1.57" fill="none"/>
<path d="M333.1,678.4 L338.1,675.4 L345.1,677.4 L340.1,681.4 Z" stroke-width="1.57" fill="none"/>
<path d="M357.3,692.4 L362.3,689.4 L369.3,691.4 L364.3,695.4 Z" stroke-width="1.57" fill="none"/>
<path d="M386.6,710.9 L391.6,707.9 L398.6,709.9 L393.6,713.9 Z" stroke-width="1.57" fill="none"/>
<path d="M330,671 Q332,673.5 334,671" stroke-width="1.46" fill="none"/>
<path d="M346,683 Q348,685.5 350,683" stroke-width="1.46" fill="none"/>
<path d="M358,677 Q360,679.5 362,677" stroke-width="1.46" fill="none"/>
<path d="M374,689 Q376,691.5 378,689" stroke-width="1.46" fill="none"/>
<path d="M378,699 Q380,701.5 382,699" stroke-width="1.46" fill="none"/>
<path d="M392,697 Q394,699.5 396,697" stroke-width="1.46" fill="none"/>
<path d="M396,715 Q398,717.5 400,715" stroke-width="1.46" fill="none"/>
<path d="M403,706 Q405,708.5 407,706" stroke-width="1.46" fill="none"/>
<path d="M407,723 Q409,725.5 411,723" stroke-width="1.46" fill="none"/>
<path d="M413,716 Q415,718.5 417,716" stroke-width="1.46" fill="none"/>
<path d="M425,721 Q427,723.5 429,721" stroke-width="1.46" fill="none"/>
<path d="M418,711 Q420,713.5 422,711" stroke-width="1.46" fill="none"/>
<path d="M428,722 Q432,716 444,718 L456,721 Q462,724 458,729 L444,732 Q432,732 430,728 Z" stroke-width="1.46" fill="none"/>
<path d="M430,728 Q436,733 440,728" stroke-width="1.46" fill="none"/>
<path d="M373.5,668 L373.5,646 Q380,644 386,645 L392.6,648 L392.6,668" stroke-width="2.02" fill="#fff"/>
<path d="M377.5,657.3 L377.5,664.8 Q383.7,668.3 389.9,664.8 L389.9,657.3" stroke-width="2.02" fill="#fff"/>
<ellipse cx="383.7" cy="657.3" rx="6.2" ry="3.6" stroke-width="2.02" fill="#fff"/>
<path d="M380.7,658.8 L386.7,656.3 M384.2,654.8 L383.2,659.8" stroke-width="1.68" fill="none"/>
<line x1="378.0" y1="668.0" x2="380.0" y2="673.0" stroke-width="1.46"/>
<polyline points="376.0,667.0 376.0,677.1 402.8,691.1 430.8,705.2 437.2,709.6 453.8,709.0 480.0,712.8" stroke-width="2.13" fill="none"/>
<polyline points="383.7,670.8 397.7,681.0 420.0,692.0" stroke-width="1.34" fill="none"/>
<polyline points="400.0,636.3 433.1,624.9" stroke-width="1.79" fill="none"/>
<polyline points="392.6,645.0 400.0,636.3" stroke-width="1.79" fill="none"/>
<polyline points="412.7,646.5 476.4,682.2 505.0,698.0" stroke-width="2.46" fill="none"/>
<polyline points="430.6,654.2 476.4,679.6" stroke-width="1.57" fill="none"/>
<path d="M404,672 Q398,660 404,650 Q412,642 424,646 L442,656 Q448,664 444,674" stroke-width="1.68" fill="none"/>
<path d="M433,676 Q434,666 442,662" stroke-width="1.79" fill="none"/>
<path d="M436,680 Q436,670 444,664" stroke-width="1.46" fill="none"/>
<path d="M437,650 Q433,638 443,630 Q452,626 462,632 L470,640 Q472,648 466,654" stroke-width="1.68" fill="none"/>
<path d="M416.6,630 Q414,620 422,616 Q430,614 438,620" stroke-width="1.68" fill="none"/>
<path d="M410,626 Q409,617 416,614" stroke-width="1.46" fill="none"/>
<path d="M463.7,657 Q470,650 480,652 L489,657" stroke-width="1.46" fill="none"/>
<polyline points="431.8,617.2 487.9,649.1 505.7,661.8" stroke-width="2.13" fill="none"/>
<polyline points="453.5,599.4 479.0,632.5" stroke-width="1.57" fill="none"/>
<polyline points="481.5,600.7 509.6,616.0 540.1,631.2 560.0,641.4 590.0,656.0" stroke-width="2.24" fill="none"/>
<polyline points="507.0,608.3 560.0,634.0 600.0,652.0" stroke-width="1.57" fill="none"/>
<polyline points="527.4,590.5 560.0,607.0 600.0,627.0 626.6,640.0" stroke-width="2.13" fill="none"/>
<polyline points="540.0,598.1 622.8,633.8" stroke-width="2.24" fill="none"/>
<polyline points="559.1,590.5 626.6,618.5" stroke-width="1.57" fill="none"/>
<polyline points="575.7,574.6 673.8,632.5" stroke-width="2.02" fill="none"/>
<path d="M476,628 Q472,614 482,608 Q492,606 499,614 L501,626" stroke-width="1.68" fill="none"/>
<path d="M488,618 Q492,610 500,612" stroke-width="1.46" fill="none"/>
<path d="M510,640 Q506,630 514,624 Q524,622 530,630" stroke-width="1.68" fill="none"/>
<path d="M504.5,672 Q502,658 512,652 Q522,650 527.4,660 L527,676" stroke-width="1.68" fill="none"/>
<path d="M520,655 Q524,648 532,650" stroke-width="1.46" fill="none"/>
<path d="M528,616 Q526,606 534,601 Q544,600 548,608" stroke-width="1.68" fill="none"/>
<path d="M555,628 Q552,617 562,614 Q572,613 579.5,620 Q582,628 576,636" stroke-width="1.68" fill="none"/>
<path d="M567,640 Q565,632 572,630" stroke-width="1.46" fill="none"/>
<path d="M590,612 Q588,602 598,600 Q606,600 610,606" stroke-width="1.68" fill="none"/>
<path d="M612,625 Q609,617 616,614 Q624,612 630,620" stroke-width="1.68" fill="none"/>
<ellipse cx="619.0" cy="620.0" rx="3.0" ry="6.0" stroke-width="1.57" fill="none" transform="rotate(-20 619 620)"/>
<ellipse cx="624.0" cy="622.0" rx="3.0" ry="6.0" stroke-width="1.57" fill="none" transform="rotate(-20 624 622)"/>
<path d="M417.8,613 L417.8,601.4 Q425.45000000000005,596.4 433.1,600.4 L433.1,611" stroke-width="1.9" fill="#fff"/>
<path d="M420.8,603.4 L430.1,601.4" stroke-width="1.46" fill="none"/>
<path d="M445.9,602.8 L445.9,592.5 Q456.04999999999995,587.5 466.2,591.5 L466.2,600.8" stroke-width="1.9" fill="#fff"/>
<path d="M448.9,594.5 L463.2,592.5" stroke-width="1.46" fill="none"/>
<path d="M528.2,592 L528.2,577.2 Q539.1,572.2 550,576.2 L550,590" stroke-width="1.9" fill="#fff"/>
<path d="M531.2,579.2 L547,577.2" stroke-width="1.46" fill="none"/>
<path d="M496,668 L491,705 L511,705 L508,668" stroke-width="1.9" fill="#fff"/>
<line x1="500.0" y1="672.0" x2="499.0" y2="703.0" stroke-width="1.34"/>
<line x1="504.0" y1="672.0" x2="505.0" y2="703.0" stroke-width="1.34"/>
<polyline points="565.5,674.6 673.8,645.3" stroke-width="2.02" fill="none"/>
<polyline points="582.0,656.7 610.0,650.0" stroke-width="1.57" fill="none"/>
<polyline points="632.0,644.0 673.8,633.2" stroke-width="1.57" fill="none"/>
<line x1="673.8" y1="632.5" x2="673.8" y2="646.5" stroke-width="2.02"/>
<polyline points="673.8,646.5 680.0,659.3 696.7,669.5" stroke-width="2.02" fill="none"/>
<polyline points="695.0,675.0 660.0,682.0" stroke-width="1.34" fill="none"/>
<ellipse cx="588.4" cy="684.7" rx="14.6" ry="5.7" stroke-width="1.57" fill="none" transform="rotate(-14 588.4 684.7)"/>
<ellipse cx="622.2" cy="675.2" rx="17.8" ry="7.0" stroke-width="1.57" fill="none" transform="rotate(-14 622.2 675.2)"/>
<ellipse cx="658.5" cy="665.0" rx="18.5" ry="7.0" stroke-width="1.57" fill="none" transform="rotate(-14 658.5 665)"/>
<path d="M593,675 Q595,677.5 597,675" stroke-width="1.34" fill="none"/>
<path d="M610,689 Q612,691.5 614,689" stroke-width="1.34" fill="none"/>
<path d="M648,678 Q650,680.5 652,678" stroke-width="1.34" fill="none"/>
<path d="M674,653 Q676,655.5 678,653" stroke-width="1.34" fill="none"/>
<path d="M686,667 Q688,669.5 690,667" stroke-width="1.34" fill="none"/>
<path d="M631,664 Q633,666.5 635,664" stroke-width="1.34" fill="none"/>
<path d="M570,691 Q572,693.5 574,691" stroke-width="1.34" fill="none"/>
<path d="M440,752 Q444,742 452,744 Q458,746 462,740 Q468,736 474,737" stroke-width="1.79" fill="none"/>
<path d="M446,748 Q448,740 455,741" stroke-width="1.46" fill="none"/>
<line x1="437.6" y1="740.0" x2="437.6" y2="760.0" stroke-width="2.02"/>
<rect x="516.0" y="712.0" width="8.0" height="9.0" rx="0" stroke-width="1.57" fill="none"/>
<path d="M536,705 L548,702 L560,706 L562,716 L553.7,721.9 L540,720 Z" stroke-width="1.79" fill="none"/>
<path d="M548,702 L552,712 L562,716 M552,712 L545,720" stroke-width="1.46" fill="none"/>
<path d="M530,712 Q536,705 544,708" stroke-width="1.57" fill="none"/>
<path d="M575,712 Q578,704 586,705 Q592,708 590,716" stroke-width="1.79" fill="none"/>
<path d="M573,712 Q580,706 590,704 L611.7,700" stroke-width="1.57" fill="none"/>
<rect x="611.7" y="699.0" width="7.0" height="10.0" rx="0" stroke-width="1.57" fill="none"/>
<rect x="646.0" y="690.0" width="4.0" height="9.0" rx="0" stroke-width="1.57" fill="none"/>
<rect x="673.3" y="682.0" width="14.0" height="9.0" rx="0" stroke-width="1.57" fill="none"/>
<line x1="618.7" y1="702.0" x2="646.9" y2="696.0" stroke-width="1.34"/>
<path d="M472,726 Q478,716 488,716 L500,713" stroke-width="1.68" fill="none"/>
<line x1="488.4" y1="712.0" x2="488.4" y2="724.0" stroke-width="2.24"/>
<line x1="495.0" y1="708.0" x2="495.0" y2="722.0" stroke-width="1.79"/>
<line x1="516.0" y1="708.0" x2="516.0" y2="722.0" stroke-width="2.46"/>
<path d="M455.2,667 A8,8 0 1 0 455.2,683" stroke-width="1.57" fill="none"/>
<path d="M499.8,686 A7,7 0 1 0 499.8,700" stroke-width="1.57" fill="none"/>
<path d="M625.0,639.8 A5.5,5.5 0 1 0 625.0,650.8" stroke-width="1.57" fill="none"/>
<path d="M577.7,654.3 A5,5 0 1 0 577.7,664.3" stroke-width="1.57" fill="none"/>
<path d="M459.4,699 A6,6 0 1 0 459.4,711" stroke-width="1.57" fill="none"/>
<path d="M602.0,661 A5,5 0 1 0 602.0,671" stroke-width="1.57" fill="none"/>
<path d="M439,667 Q440,655 451,655 Q459,658 458,668" stroke-width="1.46" fill="none"/>
<path d="M461,679 Q462,667 473,667 Q481,670 480,680" stroke-width="1.46" fill="none"/>
<path d="M511,693 Q512,681 523,681 Q531,684 530,694" stroke-width="1.46" fill="none"/>
<path d="M531,699 Q532,687 543,687 Q551,690 550,700" stroke-width="1.46" fill="none"/>
<path d="M576,671 Q577,659 588,659 Q596,662 595,672" stroke-width="1.46" fill="none"/>
<path d="M591,679 Q592,667 603,667 Q611,670 610,680" stroke-width="1.46" fill="none"/>
<line x1="420.0" y1="640.0" x2="470.0" y2="668.0" stroke-width="1.12"/>
<line x1="445.0" y1="628.0" x2="495.0" y2="655.0" stroke-width="1.12"/>
<line x1="500.0" y1="602.0" x2="560.0" y2="633.0" stroke-width="1.12"/>
<line x1="540.0" y1="620.0" x2="600.0" y2="650.0" stroke-width="1.12"/>
<path d="M596,650 Q592,640 600,636 Q608,634 612,642" stroke-width="1.57" fill="none"/>
<path d="M640,630 Q636,620 646,616 Q654,616 658,624" stroke-width="1.57" fill="none"/>
<path d="M428,612 Q430,604 438,604" stroke-width="1.34" fill="none"/>
<path d="M470,602 Q476,596 484,598" stroke-width="1.34" fill="none"/>
<path d="M435.8,605 L435.8,612.5 Q442,616.0 448.2,612.5 L448.2,605" stroke-width="2.02" fill="#fff"/>
<ellipse cx="442.0" cy="605.0" rx="6.2" ry="3.6" stroke-width="2.02" fill="#fff"/>
<path d="M439,606.5 L445,604 M442.5,602.5 L441.5,607.5" stroke-width="1.68" fill="none"/>
<path d="M467.7,591.7 L467.7,599.2 Q473.9,602.7 480.09999999999997,599.2 L480.09999999999997,591.7" stroke-width="2.02" fill="#fff"/>
<ellipse cx="473.9" cy="591.7" rx="6.2" ry="3.6" stroke-width="2.02" fill="#fff"/>
<path d="M470.9,593.2 L476.9,590.7 M474.4,589.2 L473.4,594.2" stroke-width="1.68" fill="none"/>
<path d="M465.1,614 L465.1,621.5 Q471.3,625.0 477.5,621.5 L477.5,614" stroke-width="2.02" fill="#fff"/>
<ellipse cx="471.3" cy="614.0" rx="6.2" ry="3.6" stroke-width="2.02" fill="#fff"/>
<path d="M468.3,615.5 L474.3,613 M471.8,611.5 L470.8,616.5" stroke-width="1.68" fill="none"/>
<path d="M498.3,591.7 L498.3,599.2 Q504.5,602.7 510.7,599.2 L510.7,591.7" stroke-width="2.02" fill="#fff"/>
<ellipse cx="504.5" cy="591.7" rx="6.2" ry="3.6" stroke-width="2.02" fill="#fff"/>
<path d="M501.5,593.2 L507.5,590.7 M505.0,589.2 L504.0,594.2" stroke-width="1.68" fill="none"/>
<path d="M527.5999999999999,605 L527.5999999999999,612.5 Q533.8,616.0 540.0,612.5 L540.0,605" stroke-width="2.02" fill="#fff"/>
<ellipse cx="533.8" cy="605.0" rx="6.2" ry="3.6" stroke-width="2.02" fill="#fff"/>
<path d="M530.8,606.5 L536.8,604 M534.3,602.5 L533.3,607.5" stroke-width="1.68" fill="none"/>
<path d="M539.0,617.1 L539.0,624.6 Q545.2,628.1 551.4000000000001,624.6 L551.4000000000001,617.1" stroke-width="2.02" fill="#fff"/>
<ellipse cx="545.2" cy="617.1" rx="6.2" ry="3.6" stroke-width="2.02" fill="#fff"/>
<path d="M542.2,618.6 L548.2,616.1 M545.7,614.6 L544.7,619.6" stroke-width="1.68" fill="none"/>
<path d="M419.3,636.9 L419.3,644.4 Q425.5,647.9 431.7,644.4 L431.7,636.9" stroke-width="2.02" fill="#fff"/>
<ellipse cx="425.5" cy="636.9" rx="6.2" ry="3.6" stroke-width="2.02" fill="#fff"/>
<path d="M422.5,638.4 L428.5,635.9 M426.0,634.4 L425.0,639.4" stroke-width="1.68" fill="none"/>
<path d="M449.8,644.5 L449.8,652.0 Q456,655.5 462.2,652.0 L462.2,644.5" stroke-width="2.02" fill="#fff"/>
<ellipse cx="456.0" cy="644.5" rx="6.2" ry="3.6" stroke-width="2.02" fill="#fff"/>
<path d="M453,646.0 L459,643.5 M456.5,642.0 L455.5,647.0" stroke-width="1.68" fill="none"/>
<path d="M488.7,638.2 L488.7,645.7 Q494.9,649.2 501.09999999999997,645.7 L501.09999999999997,638.2" stroke-width="2.02" fill="#fff"/>
<ellipse cx="494.9" cy="638.2" rx="6.2" ry="3.6" stroke-width="2.02" fill="#fff"/>
<path d="M491.9,639.7 L497.9,637.2 M495.4,635.7 L494.4,640.7" stroke-width="1.68" fill="none"/>
<path d="M495.7,663.6 L495.7,671.1 Q501.9,674.6 508.09999999999997,671.1 L508.09999999999997,663.6" stroke-width="2.02" fill="#fff"/>
<ellipse cx="501.9" cy="663.6" rx="6.2" ry="3.6" stroke-width="2.02" fill="#fff"/>
<path d="M498.9,665.1 L504.9,662.6 M502.4,661.1 L501.4,666.1" stroke-width="1.68" fill="none"/>
<path d="M477.2,675.1 L477.2,682.6 Q483.4,686.1 489.59999999999997,682.6 L489.59999999999997,675.1" stroke-width="2.02" fill="#fff"/>
<ellipse cx="483.4" cy="675.1" rx="6.2" ry="3.6" stroke-width="2.02" fill="#fff"/>
<path d="M480.4,676.6 L486.4,674.1 M483.9,672.6 L482.9,677.6" stroke-width="1.68" fill="none"/>
<path d="M411.6,680.2 L411.6,687.7 Q417.8,691.2 424.0,687.7 L424.0,680.2" stroke-width="2.02" fill="#fff"/>
<ellipse cx="417.8" cy="680.2" rx="6.2" ry="3.6" stroke-width="2.02" fill="#fff"/>
<path d="M414.8,681.7 L420.8,679.2 M418.3,677.7 L417.3,682.7" stroke-width="1.68" fill="none"/>
<path d="M435.8,690.4 L435.8,697.9 Q442,701.4 448.2,697.9 L448.2,690.4" stroke-width="2.02" fill="#fff"/>
<ellipse cx="442.0" cy="690.4" rx="6.2" ry="3.6" stroke-width="2.02" fill="#fff"/>
<path d="M439,691.9 L445,689.4 M442.5,687.9 L441.5,692.9" stroke-width="1.68" fill="none"/>
<path d="M543.5,661.7 L543.5,669.2 Q549.7,672.7 555.9000000000001,669.2 L555.9000000000001,661.7" stroke-width="2.02" fill="#fff"/>
<ellipse cx="549.7" cy="661.7" rx="6.2" ry="3.6" stroke-width="2.02" fill="#fff"/>
<path d="M546.7,663.2 L552.7,660.7 M550.2,659.2 L549.2,664.2" stroke-width="1.68" fill="none"/>
<path d="M633.1999999999999,605 L633.1999999999999,612.5 Q639.4,616.0 645.6,612.5 L645.6,605" stroke-width="2.02" fill="#fff"/>
<ellipse cx="639.4" cy="605.0" rx="6.2" ry="3.6" stroke-width="2.02" fill="#fff"/>
<path d="M636.4,606.5 L642.4,604 M639.9,602.5 L638.9,607.5" stroke-width="1.68" fill="none"/>
<path d="M658.0,619 L658.0,626.5 Q664.2,630.0 670.4000000000001,626.5 L670.4000000000001,619" stroke-width="2.02" fill="#fff"/>
<ellipse cx="664.2" cy="619.0" rx="6.2" ry="3.6" stroke-width="2.02" fill="#fff"/>
<path d="M661.2,620.5 L667.2,618 M664.7,616.5 L663.7,621.5" stroke-width="1.68" fill="none"/>
<path d="M624.1999999999999,624.8 L624.1999999999999,632.3 Q630.4,635.8 636.6,632.3 L636.6,624.8" stroke-width="2.02" fill="#fff"/>
<ellipse cx="630.4" cy="624.8" rx="6.2" ry="3.6" stroke-width="2.02" fill="#fff"/>
<path d="M627.4,626.3 L633.4,623.8 M630.9,622.3 L629.9,627.3" stroke-width="1.68" fill="none"/>
<path d="M584.8,638.8 L584.8,646.3 Q591,649.8 597.2,646.3 L597.2,638.8" stroke-width="2.02" fill="#fff"/>
<ellipse cx="591.0" cy="638.8" rx="6.2" ry="3.6" stroke-width="2.02" fill="#fff"/>
<path d="M588,640.3 L594,637.8 M591.5,636.3 L590.5,641.3" stroke-width="1.68" fill="none"/>
<path d="M544.0,662.4 L544.0,669.9 Q550.2,673.4 556.4000000000001,669.9 L556.4000000000001,662.4" stroke-width="2.02" fill="#fff"/>
<ellipse cx="550.2" cy="662.4" rx="6.2" ry="3.6" stroke-width="2.02" fill="#fff"/>
<path d="M547.2,663.9 L553.2,661.4 M550.7,659.9 L549.7,664.9" stroke-width="1.68" fill="none"/>
<path d="M482.40000000000003,714.6 L482.40000000000003,722.1 Q488.6,725.6 494.8,722.1 L494.8,714.6" stroke-width="2.02" fill="#fff"/>
<ellipse cx="488.6" cy="714.6" rx="6.2" ry="3.6" stroke-width="2.02" fill="#fff"/>
<path d="M485.6,716.1 L491.6,713.6 M489.1,712.1 L488.1,717.1" stroke-width="1.68" fill="none"/>
<path d="M498.6,703.2 L498.6,710.7 Q504.8,714.2 511.0,710.7 L511.0,703.2" stroke-width="2.02" fill="#fff"/>
<ellipse cx="504.8" cy="703.2" rx="6.2" ry="3.6" stroke-width="2.02" fill="#fff"/>
<path d="M501.8,704.7 L507.8,702.2 M505.3,700.7 L504.3,705.7" stroke-width="1.68" fill="none"/>
<path d="M604,598 L604,580 Q611,574 618,580 L618,598" stroke-width="2.02" fill="#fff"/>
<ellipse cx="611.0" cy="580.0" rx="7.0" ry="3.2" stroke-width="1.9" fill="#fff"/>
<path d="M608,581 L614,579" stroke-width="1.46" fill="none"/>
<path d="M431.3,522.2 Q424,516 424.2,508 Q424,497 431.3,493.1 Q439,489 447.4,493.1 L473.5,501.6 L478,512 L466,518 Z" stroke-width="1.8" fill="#fff"/>
<path d="M447.4,493.1 L452.4,492.6 Q458,490 464.4,492.1 L465.5,497.1 L473.5,501.6" stroke-width="1.6" fill="none"/>
<path d="M382,527.2 L429.3,526.7 L436,525 L449.4,531.3 L445.4,539.3 L394.1,539.3 Q383,537 382,527.2 Z" stroke-width="1.8" fill="#fff"/>
<ellipse cx="393.1" cy="531.8" rx="5.0" ry="2.2" stroke-width="1.2" fill="none"/>
<line x1="431.3" y1="522.2" x2="449.4" y2="531.3" stroke-width="1.6"/>
<line x1="431.0" y1="531.0" x2="442.0" y2="537.0" stroke-width="1.0"/>
<ellipse cx="462.4" cy="522.2" rx="8.5" ry="11.5" stroke-width="1.6" fill="#fff" transform="rotate(-10 462.4 522.2)"/>
<ellipse cx="464.0" cy="522.5" rx="6.0" ry="8.5" stroke-width="1.3" fill="none" transform="rotate(-10 464 522.5)"/>
<path d="M471.5,502 L478.5,503 L478.5,517" stroke-width="1.6" fill="none"/>
<ellipse cx="478.5" cy="528.2" rx="8.0" ry="10.0" stroke-width="1.8" fill="#fff" transform="rotate(-15 478.5 528.2)"/>
<ellipse cx="480.0" cy="528.5" rx="4.5" ry="6.0" stroke-width="1.3" fill="none" transform="rotate(-15 480 528.5)"/>
<line x1="465.5" y1="498.3" x2="633.5" y2="498.3" stroke-width="2.4"/>
<line x1="633.5" y1="498.3" x2="633.5" y2="550.0" stroke-width="1.6"/>
<line x1="633.5" y1="520.0" x2="652.0" y2="520.0" stroke-width="1.3"/>
<line x1="614.0" y1="550.0" x2="633.5" y2="550.0" stroke-width="1.3"/>
<ellipse cx="513.7" cy="550.4" rx="5.5" ry="8.0" stroke-width="2.6" fill="none" transform="rotate(25 513.7 550.4)"/>
<line x1="519.5" y1="550.0" x2="541.0" y2="550.0" stroke-width="1.2"/>
<path d="M204.2,531 Q190,531 184,543 Q181,550 182,556 L178.5,562.2 L182,567.3 L189,571.3 Q195,580 200.2,579.8 L210.2,573.3 L222.3,570.8 L225.3,543.1 Z" stroke-width="1.25" fill="#fff"/>
<path d="M211,552 Q204,562 211,573" stroke-width="1.0" fill="none"/>
<path d="M215,550 Q208,561 215,573" stroke-width="1.0" fill="none"/>
<line x1="220.0" y1="546.0" x2="228.0" y2="549.0" stroke-width="1.3"/>
<line x1="220.5" y1="548.5" x2="228.0" y2="551.5" stroke-width="1.3"/>
<line x1="221.0" y1="551.0" x2="228.0" y2="554.0" stroke-width="1.3"/>
<circle cx="236.3" cy="544.1" r="11.0" stroke-width="1.8" fill="#fff"/>
<ellipse cx="236.0" cy="541.0" rx="4.0" ry="1.8" stroke-width="1.2" fill="none"/>
<path d="M220.0,552.0 Q228,548 232,555" stroke-width="1.0" fill="none"/>
<path d="M221.5,552.6 Q228,550 232,557" stroke-width="1.0" fill="none"/>
<path d="M223.0,553.2 Q228,552 232,559" stroke-width="1.0" fill="none"/>
<path d="M224.5,553.8 Q228,554 232,561" stroke-width="1.0" fill="none"/>
<circle cx="235.3" cy="567.3" r="9.5" stroke-width="1.8" fill="#fff"/>
<circle cx="236.0" cy="567.5" r="5.0" stroke-width="1.3" fill="none"/>
<path d="M219,553 Q213,561 219,570" stroke-width="1.2" fill="none"/>
<path d="M224,552 Q218,561 224,571" stroke-width="1.2" fill="none"/>
<circle cx="186.0" cy="548.0" r="0.6" stroke-width="1.0" fill="none"/>
<circle cx="195.0" cy="552.0" r="0.6" stroke-width="1.0" fill="none"/>
<circle cx="205.0" cy="556.0" r="0.6" stroke-width="1.0" fill="none"/>
<circle cx="199.0" cy="566.0" r="0.6" stroke-width="1.0" fill="none"/>
<line x1="204.2" y1="522.2" x2="301.7" y2="522.2" stroke-width="1.2"/>
<line x1="204.2" y1="522.2" x2="204.2" y2="531.0" stroke-width="1.2"/>
<line x1="251.2" y1="517.0" x2="251.2" y2="522.0" stroke-width="1.2"/>
<line x1="301.7" y1="522.2" x2="301.7" y2="544.0" stroke-width="1.6"/>
<line x1="301.7" y1="568.0" x2="301.7" y2="589.0" stroke-width="1.6"/>
<ellipse cx="296.6" cy="600.0" rx="5.5" ry="8.0" stroke-width="2.6" fill="none" transform="rotate(25 296.6 600)"/>
<line x1="252.4" y1="575.3" x2="281.6" y2="591.4" stroke-width="1.2" stroke-dasharray="6 6"/>
<line x1="236.3" y1="591.0" x2="236.3" y2="630.0" stroke-width="1.2" stroke-dasharray="6 5"/>
<path d="M731.9,725.1 Q736,723 739.8,724.4 L755.7,731 L772.8,739.6 Q777,745 775.4,751.4 Q774,760 770.2,764.6 Q765,768 758.3,768.6 L742.5,760.7 L726.6,748.8 L724.7,740.9 Z" stroke-width="1.8" fill="#fff"/>
<path d="M742.5,760.7 L742.5,767.3 L755.7,773.2 L769.5,769.9 L770.2,764.6" stroke-width="1.6" fill="none"/>
<line x1="755.7" y1="773.2" x2="756.0" y2="766.0" stroke-width="1.2"/>
<path d="M759.6,713.9 L771.5,713.2 L793.9,719.8 L796.5,729 L774.1,735.6 L772.8,739.6 L755.7,731 Z" stroke-width="1.6" fill="#fff"/>
<ellipse cx="767.5" cy="719.1" rx="4.0" ry="1.8" stroke-width="1.2" fill="none"/>
<ellipse cx="787.3" cy="723.1" rx="4.0" ry="1.8" stroke-width="1.2" fill="none"/>
<line x1="760.0" y1="727.0" x2="770.0" y2="733.0" stroke-width="1.0"/>
<path d="M716,719 L733,724.5 L728,748 L712,738 Z" stroke-width="1.6" fill="#fff"/>
<ellipse cx="716.5" cy="728.4" rx="7.5" ry="10.0" stroke-width="1.8" fill="#fff" transform="rotate(-20 716.5 728.4)"/>
<path d="M721.0,720.0 Q726,731 721,742" stroke-width="1.2" fill="none"/>
<path d="M724.2,721.2 Q729,731 724,742" stroke-width="1.2" fill="none"/>
<path d="M727.4,722.4 Q732,731 727,742" stroke-width="1.2" fill="none"/>
<line x1="771.5" y1="675.7" x2="771.5" y2="713.4" stroke-width="1.3"/>
<line x1="788.9" y1="734.3" x2="788.9" y2="819.0" stroke-width="1.6" stroke-dasharray="7 6"/>
<line x1="668.2" y1="696.6" x2="702.6" y2="715.7" stroke-width="1.2" stroke-dasharray="6 6"/>
<path d="M640.9,756.7 Q646,754 652.8,755.4 L673.9,766 L681.8,772.5 Q684,778 683.1,784.4 Q682,790 677.8,795 L664.6,802.9 L650.8,796.3 L646.2,787.1 Z" stroke-width="1.8" fill="#fff"/>
<path d="M650.8,796.3 L651,800 L664,806 L677.5,800 L677.8,795" stroke-width="1.4" fill="none"/>
<path d="M609.9,771.2 L611.9,769.3 L634.3,768.6 L654.1,780.5 L646.2,787.1 L631.7,789 L610.6,776.5 Z" stroke-width="1.6" fill="#fff"/>
<ellipse cx="619.8" cy="772.5" rx="4.0" ry="1.8" stroke-width="1.2" fill="none"/>
<ellipse cx="633.6" cy="783.1" rx="4.0" ry="1.8" stroke-width="1.2" fill="none"/>
<path d="M624,750 L642,756 L645,768 L628,769 Z" stroke-width="1.6" fill="#fff"/>
<ellipse cx="624.0" cy="759.0" rx="6.5" ry="8.5" stroke-width="1.8" fill="#fff" transform="rotate(-20 624 759)"/>
<path d="M629.0,751 Q633,760 630,769" stroke-width="1.2" fill="none"/>
<path d="M632.2,752 Q636,760 633,769" stroke-width="1.2" fill="none"/>
<path d="M635.4,753 Q639,760 636,769" stroke-width="1.2" fill="none"/>
<line x1="569.5" y1="774.6" x2="611.0" y2="774.6" stroke-width="1.3"/>
<line x1="633.6" y1="792.0" x2="633.6" y2="841.0" stroke-width="1.4" stroke-dasharray="6 5"/>
<polyline points="647.1,716.7 587.9,733.9 614.7,751.1" stroke-width="1.2" fill="none" stroke-dasharray="6 6"/>
<line x1="423.0" y1="760.5" x2="423.0" y2="796.6" stroke-width="1.6"/>
<line x1="308.7" y1="607.0" x2="322.8" y2="614.5" stroke-width="1.2" stroke-dasharray="6 6"/>
<line x1="322.8" y1="614.5" x2="428.0" y2="589.7" stroke-width="1.2" stroke-dasharray="7 6"/>
<line x1="306.0" y1="633.0" x2="394.0" y2="610.4" stroke-width="1.2" stroke-dasharray="7 6"/>
<line x1="305.8" y1="633.0" x2="305.8" y2="762.6" stroke-width="1.2" stroke-dasharray="6 5"/>
<line x1="393.3" y1="545.0" x2="393.3" y2="610.0" stroke-width="1.2" stroke-dasharray="6 5"/>
<line x1="523.0" y1="558.0" x2="560.7" y2="576.8" stroke-width="1.2" stroke-dasharray="6 6"/>
<rect x="231.3" y="634.0" width="10.0" height="16.5" rx="1.5" stroke-width="1.6" fill="#fff"/>
<line x1="231.3" y1="637.0" x2="241.3" y2="636.0" stroke-width="1.1"/>
<line x1="231.3" y1="639.6" x2="241.3" y2="638.6" stroke-width="1.1"/>
<line x1="231.3" y1="642.2" x2="241.3" y2="641.2" stroke-width="1.1"/>
<line x1="231.3" y1="644.8" x2="241.3" y2="643.8" stroke-width="1.1"/>
<line x1="231.3" y1="647.4" x2="241.3" y2="646.4" stroke-width="1.1"/>
<path d="M227.8,652.53 Q236.3,648.53 244.8,652.53 L244.8,655.53 Q236.3,659.53 227.8,655.53 Z" stroke-width="1.6" fill="#fff"/>
<path d="M229.8,656.53 L229.8,659.5 Q236.3,663.5 242.8,659.5 L242.8,656.53" stroke-width="1.6" fill="#fff"/>
<line x1="234.3" y1="657.5" x2="234.3" y2="661.5" stroke-width="1.0"/>
<line x1="239.3" y1="657.5" x2="239.3" y2="661.5" stroke-width="1.0"/>
<line x1="201.5" y1="653.8" x2="227.5" y2="653.8" stroke-width="1.2"/>
<rect x="302.0" y="770.0" width="10.0" height="16.8" rx="1.5" stroke-width="1.6" fill="#fff"/>
<line x1="302.0" y1="773.0" x2="312.0" y2="772.0" stroke-width="1.1"/>
<line x1="302.0" y1="775.6" x2="312.0" y2="774.6" stroke-width="1.1"/>
<line x1="302.0" y1="778.2" x2="312.0" y2="777.2" stroke-width="1.1"/>
<line x1="302.0" y1="780.8" x2="312.0" y2="779.8" stroke-width="1.1"/>
<line x1="302.0" y1="783.4" x2="312.0" y2="782.4" stroke-width="1.1"/>
<path d="M298.5,788.82 Q307,784.82 315.5,788.82 L315.5,791.82 Q307,795.82 298.5,791.82 Z" stroke-width="1.6" fill="#fff"/>
<path d="M300.5,792.82 L300.5,796 Q307,800 313.5,796 L313.5,792.82" stroke-width="1.6" fill="#fff"/>
<line x1="305.0" y1="793.8" x2="305.0" y2="798.0" stroke-width="1.0"/>
<line x1="310.0" y1="793.8" x2="310.0" y2="798.0" stroke-width="1.0"/>
<line x1="278.0" y1="790.0" x2="299.5" y2="790.0" stroke-width="1.2"/>
<rect x="629.6" y="849.6" width="10.0" height="16.8" rx="1.5" stroke-width="1.6" fill="#fff"/>
<line x1="629.6" y1="852.6" x2="639.6" y2="851.6" stroke-width="1.1"/>
<line x1="629.6" y1="855.2" x2="639.6" y2="854.2" stroke-width="1.1"/>
<line x1="629.6" y1="857.8" x2="639.6" y2="856.8" stroke-width="1.1"/>
<line x1="629.6" y1="860.4" x2="639.6" y2="859.4" stroke-width="1.1"/>
<line x1="629.6" y1="863.0" x2="639.6" y2="862.0" stroke-width="1.1"/>
<path d="M626.1,868.362 Q634.6,864.362 643.1,868.362 L643.1,871.362 Q634.6,875.362 626.1,871.362 Z" stroke-width="1.6" fill="#fff"/>
<path d="M628.1,872.362 L628.1,875.5 Q634.6,879.5 641.1,875.5 L641.1,872.362" stroke-width="1.6" fill="#fff"/>
<line x1="632.6" y1="873.4" x2="632.6" y2="877.5" stroke-width="1.0"/>
<line x1="637.6" y1="873.4" x2="637.6" y2="877.5" stroke-width="1.0"/>
<line x1="642.8" y1="874.7" x2="674.2" y2="874.7" stroke-width="1.2"/>
<rect x="783.3" y="826.7" width="10.0" height="16.4" rx="1.5" stroke-width="1.6" fill="#fff"/>
<line x1="783.3" y1="829.7" x2="793.3" y2="828.7" stroke-width="1.1"/>
<line x1="783.3" y1="832.3" x2="793.3" y2="831.3" stroke-width="1.1"/>
<line x1="783.3" y1="834.9" x2="793.3" y2="833.9" stroke-width="1.1"/>
<line x1="783.3" y1="837.5" x2="793.3" y2="836.5" stroke-width="1.1"/>
<line x1="783.3" y1="840.1" x2="793.3" y2="839.1" stroke-width="1.1"/>
<path d="M779.8,845.114 Q788.3,841.114 796.8,845.114 L796.8,848.114 Q788.3,852.114 779.8,848.114 Z" stroke-width="1.6" fill="#fff"/>
<path d="M781.8,849.114 L781.8,852 Q788.3,856 794.8,852 L794.8,849.114" stroke-width="1.6" fill="#fff"/>
<line x1="786.3" y1="850.1" x2="786.3" y2="854.0" stroke-width="1.0"/>
<line x1="791.3" y1="850.1" x2="791.3" y2="854.0" stroke-width="1.0"/>
<line x1="797.0" y1="845.5" x2="837.5" y2="845.5" stroke-width="1.2"/>
<line x1="788.9" y1="809.4" x2="788.9" y2="818.8" stroke-width="1.4"/>
<rect x="896.6" y="994.0" width="10.0" height="17.2" rx="1.5" stroke-width="1.6" fill="#fff"/>
<line x1="896.6" y1="997.0" x2="906.6" y2="996.0" stroke-width="1.1"/>
<line x1="896.6" y1="999.6" x2="906.6" y2="998.6" stroke-width="1.1"/>
<line x1="896.6" y1="1002.2" x2="906.6" y2="1001.2" stroke-width="1.1"/>
<line x1="896.6" y1="1004.8" x2="906.6" y2="1003.8" stroke-width="1.1"/>
<line x1="896.6" y1="1007.4" x2="906.6" y2="1006.4" stroke-width="1.1"/>
<path d="M893.1,1013.168 Q901.6,1009.168 910.1,1013.168 L910.1,1016.168 Q901.6,1020.168 893.1,1016.168 Z" stroke-width="1.6" fill="#fff"/>
<path d="M895.1,1017.168 L895.1,1020.6 Q901.6,1024.6 908.1,1020.6 L908.1,1017.168" stroke-width="1.6" fill="#fff"/>
<line x1="899.6" y1="1018.2" x2="899.6" y2="1022.6" stroke-width="1.0"/>
<line x1="904.6" y1="1018.2" x2="904.6" y2="1022.6" stroke-width="1.0"/>
<line x1="909.8" y1="1013.0" x2="947.5" y2="1013.0" stroke-width="1.2"/>
<rect x="761.0" y="1051.3" width="10.0" height="16.4" rx="1.5" stroke-width="1.6" fill="#fff"/>
<line x1="761.0" y1="1054.3" x2="771.0" y2="1053.3" stroke-width="1.1"/>
<line x1="761.0" y1="1056.9" x2="771.0" y2="1055.9" stroke-width="1.1"/>
<line x1="761.0" y1="1059.5" x2="771.0" y2="1058.5" stroke-width="1.1"/>
<line x1="761.0" y1="1062.1" x2="771.0" y2="1061.1" stroke-width="1.1"/>
<line x1="761.0" y1="1064.7" x2="771.0" y2="1063.7" stroke-width="1.1"/>
<path d="M757.5,1069.656 Q766,1065.656 774.5,1069.656 L774.5,1072.656 Q766,1076.656 757.5,1072.656 Z" stroke-width="1.6" fill="#fff"/>
<path d="M759.5,1073.656 L759.5,1076.5 Q766,1080.5 772.5,1076.5 L772.5,1073.656" stroke-width="1.6" fill="#fff"/>
<line x1="764.0" y1="1074.7" x2="764.0" y2="1078.5" stroke-width="1.0"/>
<line x1="769.0" y1="1074.7" x2="769.0" y2="1078.5" stroke-width="1.0"/>
<line x1="774.7" y1="1068.5" x2="815.0" y2="1068.5" stroke-width="1.2"/>
<line x1="282.2" y1="879.0" x2="282.2" y2="1041.0" stroke-width="1.3"/>
<line x1="282.2" y1="879.0" x2="288.0" y2="879.0" stroke-width="1.2"/>
<line x1="282.2" y1="910.4" x2="302.0" y2="910.4" stroke-width="1.2"/>
<line x1="275.6" y1="955.6" x2="302.0" y2="955.6" stroke-width="1.2"/>
<line x1="282.2" y1="1041.0" x2="378.0" y2="1041.0" stroke-width="1.2"/>
<line x1="385.0" y1="878.2" x2="452.8" y2="878.2" stroke-width="1.2"/>
<line x1="387.4" y1="910.4" x2="401.3" y2="910.4" stroke-width="1.2"/>
<line x1="369.0" y1="955.6" x2="401.3" y2="955.6" stroke-width="1.2"/>
<path d="M452,879 Q455,873 466,872.5 L477,874 L485.4,882 L485,889 L467,895.8 Q455,895 452,888 Z" stroke-width="1.8" fill="#fff"/>
<ellipse cx="466.0" cy="883.0" rx="6.0" ry="2.2" stroke-width="1.4" fill="none" transform="rotate(-10 466 883)"/>
<line x1="469.0" y1="894.0" x2="484.0" y2="888.0" stroke-width="1.6"/>
<path d="M401.3,909 L412,899 Q419,896.8 428,899 L436,906 L435.5,912 L417,917.1 Q408,916 401.3,909 Z" stroke-width="1.8" fill="#fff"/>
<ellipse cx="418.0" cy="907.0" rx="6.0" ry="2.8" stroke-width="1.0" fill="#000" transform="rotate(-12 418 907)"/>
<line x1="420.0" y1="916.0" x2="435.0" y2="911.0" stroke-width="1.6"/>
<path d="M391.2,944 Q393,935 406,934.7 L418,935 L432.5,946 L433.4,953 L411,958.6 Q398,955 391.2,944 Z" stroke-width="1.8" fill="#fff"/>
<path d="M403,943 Q406,939 414,940 L422,946 Q418,951 411,951 Q404,949 403,943 Z" stroke-width="1.6" fill="none"/>
<line x1="412.0" y1="957.0" x2="432.0" y2="951.0" stroke-width="2.4"/>
<polygon points="355.5,1013.4 360.0,1005.0 368.0,995.8 385.7,990.8 434.7,977.7 436.0,973.0 445.0,970.0 458.0,968.5 470.0,967.0 506.3,968.0 556.5,995.8 556.0,1004.0 569.0,1010.8 566.6,1021.0 476.0,1046.0 471.0,1066.0 431.0,1076.0 423.4,1070.0 358.0,1028.4" stroke-width="2.0" fill="#fff"/>
<polyline points="358.0,1018.0 420.0,1055.0 428.0,1066.0 468.0,1058.0 472.0,1040.0 562.0,1016.0" stroke-width="1.4" fill="none"/>
<polyline points="362.0,1009.0 366.0,1000.0 385.0,994.0 432.0,982.0 438.0,987.0 470.0,983.0" stroke-width="1.2" fill="none"/>
<polyline points="556.5,995.8 557.0,1004.0 478.0,1027.0 470.0,1037.0 470.0,1050.0 438.0,1058.0 430.0,1050.0 380.0,1020.0 370.0,1012.0" stroke-width="1.3" fill="none"/>
<path d="M436,973 Q437,983 448,984 L468,981 Q474,978 470,970" stroke-width="1.5" fill="none"/>
<path d="M470,969 Q466,978 474,981 L486,981 Q494,978 490,972 Q486,967 478,968" stroke-width="2.0" fill="none"/>
<path d="M403,1006 Q410,1012 424,1008" stroke-width="1.3" fill="none"/>
<path d="M383,1016 Q393,1022 404,1016" stroke-width="1.3" fill="none"/>
<path d="M406,1027 Q415,1032 424,1028" stroke-width="1.3" fill="none"/>
<path d="M424,1036 Q432,1040 438,1034" stroke-width="1.3" fill="none"/>
<path d="M462,1050 Q470,1052 476,1047" stroke-width="1.2" fill="none"/>
<line x1="388.0" y1="1024.0" x2="395.0" y2="1030.0" stroke-width="1.2"/>
<line x1="384.0" y1="1028.0" x2="400.0" y2="1038.0" stroke-width="1.2"/>
<path d="M827.8,888.1 L870.3,908.1 L877.7,893.9 L835.2,873.9 A4.0,8.0 27.4 0 0 827.8,888.1 Z" stroke-width="1.6" fill="#fff"/>
<line x1="843.8" y1="893.0" x2="849.4" y2="888.7" stroke-width="1.3"/>
<line x1="848.9" y1="895.4" x2="854.5" y2="891.1" stroke-width="1.3"/>
<line x1="854.0" y1="897.8" x2="859.6" y2="893.5" stroke-width="1.3"/>
<path d="M866.2,916.1 L906.7,939.1 L922.3,908.9 L881.8,885.9 A9.4,17.0 27.4 0 0 866.2,916.1 Z" stroke-width="1.6" fill="#fff"/>
<ellipse cx="914.5" cy="924.0" rx="10.5" ry="17.0" stroke-width="1.8" fill="#fff" transform="rotate(27.38742215707617 914.5 924)"/>
<ellipse cx="913.2" cy="923.3" rx="7.7" ry="13.3" stroke-width="1.6" fill="none" transform="rotate(27.38742215707617 913.1681254165061 923.3099926856598)"/>
<path d="M906.7,939.1 A10.5,17.0 27.4 0 1 923.9,928.8" stroke-width="3.0" fill="none"/>
<line x1="922.3" y1="906.8" x2="962.5" y2="906.8" stroke-width="1.3"/>
<path d="M738.1,929.6 L786.1,952.6 L793.9,937.4 L745.9,914.4 A4.2,8.5 27.2 0 0 738.1,929.6 Z" stroke-width="1.6" fill="#fff"/>
<line x1="756.1" y1="935.3" x2="761.9" y2="930.7" stroke-width="1.3"/>
<line x1="761.8" y1="938.1" x2="767.6" y2="933.4" stroke-width="1.3"/>
<line x1="767.6" y1="940.9" x2="773.4" y2="936.2" stroke-width="1.3"/>
<path d="M782.0,960.6 L815.0,979.3 L831.0,948.1 L798.0,929.4 A9.6,17.5 27.2 0 0 782.0,960.6 Z" stroke-width="1.6" fill="#fff"/>
<ellipse cx="823.0" cy="963.7" rx="10.8" ry="17.5" stroke-width="1.8" fill="#fff" transform="rotate(27.240080673844762 823 963.7)"/>
<ellipse cx="821.7" cy="963.0" rx="7.9" ry="13.7" stroke-width="1.6" fill="none" transform="rotate(27.240080673844762 821.666355403692 963.013420004123)"/>
<path d="M815.0,979.3 A10.8,17.5 27.2 0 1 832.6,968.7" stroke-width="3.0" fill="none"/>
<polyline points="691.5,905.2 705.6,905.2 740.2,924.0" stroke-width="1.2" fill="none"/>
<path d="M691.2,949.6 L738.2,969.6 L745.8,954.4 L698.8,934.4 A4.2,8.5 26.7 0 0 691.2,949.6 Z" stroke-width="1.6" fill="#fff"/>
<line x1="708.8" y1="954.3" x2="714.5" y2="949.6" stroke-width="1.3"/>
<line x1="714.4" y1="956.7" x2="720.2" y2="952.0" stroke-width="1.3"/>
<line x1="720.1" y1="959.1" x2="725.8" y2="954.4" stroke-width="1.3"/>
<path d="M734.1,977.6 L769.1,998.9 L784.9,967.7 L749.9,946.4 A9.6,17.5 26.7 0 0 734.1,977.6 Z" stroke-width="1.6" fill="#fff"/>
<ellipse cx="777.0" cy="983.3" rx="10.8" ry="17.5" stroke-width="1.8" fill="#fff" transform="rotate(26.73250061610437 777 983.3)"/>
<ellipse cx="775.7" cy="982.6" rx="7.9" ry="13.7" stroke-width="1.6" fill="none" transform="rotate(26.73250061610437 775.6603254425023 982.6252614728701)"/>
<path d="M769.1,998.9 A10.8,17.5 26.7 0 1 786.7,988.2" stroke-width="3.0" fill="none"/>
<line x1="675.8" y1="982.8" x2="730.0" y2="982.8" stroke-width="1.2"/>
<path d="M851.5,975 Q851,987 856,989 L870,984 Q880,980 885,979 L895,981 L906.6,979 L903,974 L890,969 Q884,966 878,969 L872,972 Q866,968 862,972 L860,978 Q856,970 851.5,975 Z" stroke-width="1.8" fill="#fff"/>
<line x1="906.6" y1="979.0" x2="949.0" y2="979.0" stroke-width="1.6"/>
<path d="M714.4,1040 Q714,1048 720,1049.7 L735,1045 L748,1040 L760,1040 L774.7,1046 L772,1037 L765,1033 L770,1022 Q767,1015 762,1020 L755,1030 L744,1030 L735,1033 L728,1036 Q724,1032 720,1034 Z" stroke-width="1.8" fill="#fff"/>
<line x1="663.2" y1="1041.2" x2="714.4" y2="1041.2" stroke-width="1.6"/>
<polygon points="966.0,205.0 1000.0,204.0 1020.0,202.5 1485.0,203.2 1498.8,211.0 1509.7,211.7 1510.0,286.5 1525.0,286.5 1525.0,446.5 1510.5,446.5 1510.5,535.5 966.0,535.5" stroke-width="1.02" fill="none"/>
<line x1="1510.3" y1="286.5" x2="1510.3" y2="446.5" stroke-width="1.02"/>
<path d="M1009,226 L1468,226.3 Q1480.3,226.5 1480.3,239 L1481.3,496 Q1481,512 1465,512 L1011,512.3 Q996.5,512 996.5,497 L996.6,240 Q996.6,226 1009,226 Z" stroke-width="1.2" fill="none"/>
<path d="M1003,300 L1003,246 Q1003,233.8 1016,233.8 L1040,233.8" stroke-width="1.44" fill="none"/>
<line x1="992.5" y1="300.0" x2="992.5" y2="500.0" stroke-width="1.2"/>
<line x1="999.8" y1="300.0" x2="999.8" y2="470.0" stroke-width="1.2"/>
<path d="M1091.6,226.5 Q1100,232 1110,227 Q1120,223 1130,228 Q1140,232 1150,227 L1245,227" stroke-width="1.44" fill="none"/>
<polyline points="1040.0,233.0 1091.6,233.0 1196.4,237.1 1245.6,241.2 1300.0,240.0" stroke-width="1.44" fill="none"/>
<polyline points="1126.0,250.2 1214.4,247.8 1250.0,251.0 1300.0,250.0" stroke-width="1.44" fill="none"/>
<path d="M1060,236 Q1075,228 1090,240" stroke-width="1.44" fill="none"/>
<path d="M1003,300 Q1002,270 1012,266 Q1030,262 1042.4,262.5 L1081.7,262.5 Q1090,264 1095,270 L1104.7,288.7 Q1110,300 1126,303.5 L1219.4,304.3 Q1232,308 1240,318 L1248.8,328" stroke-width="1.44" fill="none"/>
<polyline points="1081.7,262.5 1112.9,243.7" stroke-width="1.44" fill="none"/>
<polyline points="1090.0,264.1 1112.9,252.7" stroke-width="1.44" fill="none"/>
<path d="M1000,262 Q1008,270 1022,268 L1040,270 Q1048,283 1042,300 L1047,318 Q1050,335 1038,343 Q1028,346 1015,345 Q1003,342 1003,330" stroke-width="1.44" fill="none"/>
<path d="M1003,390 Q1003,383 1012,385 L1024,388 Q1030,396 1030,405 Q1040,410 1040,425 Q1038,436 1030,450 Q1022,456 1010,455 L1003,455" stroke-width="1.44" fill="none"/>
<path d="M997.3,454.3 Q1000,470 1019.4,471.5 L1035.7,481.3 L1091.3,481.3" stroke-width="1.44" fill="none"/>
<path d="M1003,360 Q1010,365 1020,362" stroke-width="1.2" fill="none"/>
<path d="M1010,470 L1030,462" stroke-width="1.2" fill="none"/>
<path d="M1000,492 Q1010,500 1026,493 L1065,493" stroke-width="1.2" fill="none"/>
<rect x="1112.9" y="243.7" width="16.4" height="52.4" rx="0" stroke-width="1.56" fill="none"/>
<rect x="1129.3" y="250.2" width="34.4" height="45.9" rx="0" stroke-width="1.56" fill="none"/>
<rect x="1180.0" y="252.7" width="30.3" height="43.4" rx="0" stroke-width="1.56" fill="none"/>
<rect x="1210.3" y="264.1" width="19.7" height="32.0" rx="0" stroke-width="1.56" fill="none"/>
<rect x="1224.3" y="268.2" width="9.0" height="23.0" rx="0" stroke-width="1.56" fill="none"/>
<line x1="1112.9" y1="247.0" x2="1129.3" y2="247.0" stroke-width="1.32"/>
<line x1="1112.9" y1="251.0" x2="1129.3" y2="251.0" stroke-width="1.32"/>
<line x1="1112.9" y1="259.2" x2="1129.3" y2="259.2" stroke-width="1.32"/>
<path d="M1120.8,321 Q1137.4,321 1137.4,335 Q1137,345 1131,352 Q1130,357 1131,363 Q1137.4,370 1137.4,380 Q1137.4,395 1120.8,395 Q1104.2,395 1104.2,380 Q1104.2,370 1110.6,363 Q1111.6,357 1110.6,352 Q1104.2,345 1104.2,335 Q1104.2,321 1120.8,321 Z" stroke-width="1.44" fill="none"/>
<path d="M1206.4,431.4 L1206.4,356 Q1206.4,343.6 1225.6,343.6 Q1244.8,343.6 1244.8,356 L1244.8,431.4 Q1244.8,431.4 1244,420 Q1240,431.4 1225.6,431.4 Q1210,431.4 1206.4,420" stroke-width="1.56" fill="none"/>
<line x1="1128.0" y1="500.9" x2="1231.7" y2="500.9" stroke-width="1.44"/>
<path d="M1161.5,481.3 L1194.1,481.3 Q1203,480 1207.2,474.7 L1250,433.9" stroke-width="1.44" fill="none"/>
<polyline points="1207.2,474.7 1235.0,474.7 1235.0,492.0" stroke-width="1.44" fill="none"/>
<circle cx="1218.6" cy="488.6" r="9.5" stroke-width="1.44" fill="none"/>
<path d="M1040,512 Q1050,505 1060,512 M1120,512 Q1135,505 1150,512 M1200,512 Q1210,506 1220,512" stroke-width="1.32" fill="none"/>
<polyline points="1250.0,505.0 1258.0,505.0 1258.0,512.0" stroke-width="1.44" fill="none"/>
<rect x="1259.7" y="274.8" width="35.2" height="55.7" rx="0" stroke-width="1.8" fill="none"/>
<rect x="1293.2" y="292.0" width="14.0" height="38.5" rx="0" stroke-width="1.8" fill="none"/>
<rect x="1325.2" y="253.5" width="32.8" height="38.5" rx="0" stroke-width="1.8" fill="none"/>
<rect x="1333.4" y="258.4" width="15.6" height="39.3" rx="0" stroke-width="1.8" fill="none"/>
<rect x="1358.0" y="250.2" width="22.9" height="41.8" rx="0" stroke-width="1.8" fill="none"/>
<rect x="1380.9" y="233.0" width="31.1" height="57.4" rx="0" stroke-width="1.8" fill="none"/>
<rect x="1388.3" y="255.1" width="15.5" height="22.2" rx="0" stroke-width="1.8" fill="none"/>
<rect x="1389.0" y="277.3" width="14.8" height="18.0" rx="0" stroke-width="1.8" fill="none"/>
<rect x="1328.3" y="413.7" width="28.3" height="15.5" rx="0" stroke-width="1.8" fill="none"/>
<rect x="1328.3" y="429.2" width="28.3" height="38.2" rx="0" stroke-width="1.8" fill="none"/>
<rect x="1328.3" y="467.4" width="28.3" height="11.9" rx="0" stroke-width="1.8" fill="none"/>
<rect x="1328.3" y="479.3" width="28.3" height="10.0" rx="0" stroke-width="1.8" fill="none"/>
<line x1="1321.0" y1="322.0" x2="1321.0" y2="490.0" stroke-width="1.92"/>
<line x1="1325.6" y1="322.0" x2="1325.6" y2="490.0" stroke-width="1.92"/>
<line x1="1412.0" y1="233.0" x2="1412.0" y2="285.0" stroke-width="1.68"/>
<polyline points="1265.0,245.0 1280.0,236.0 1300.0,234.0 1325.0,240.0 1325.0,253.5" stroke-width="1.44" fill="none"/>
<polyline points="1260.0,330.5 1260.0,345.0 1275.0,345.0 1278.0,360.0 1290.0,362.0" stroke-width="1.44" fill="none"/>
<rect x="1336.7" y="310.0" width="23.3" height="20.0" rx="0" stroke-width="1.68" fill="none"/>
<rect x="1351.0" y="295.0" width="12.0" height="40.0" rx="0" stroke-width="1.68" fill="none"/>
<rect x="1363.0" y="300.0" width="17.0" height="30.0" rx="0" stroke-width="1.68" fill="none"/>
<rect x="1380.0" y="296.0" width="12.0" height="50.0" rx="0" stroke-width="1.68" fill="none"/>
<rect x="1392.0" y="302.0" width="18.0" height="10.0" rx="0" stroke-width="1.68" fill="none"/>
<rect x="1395.0" y="315.0" width="18.0" height="10.0" rx="0" stroke-width="1.68" fill="none"/>
<rect x="1410.0" y="296.0" width="15.0" height="44.0" rx="0" stroke-width="1.68" fill="none"/>
<rect x="1340.0" y="330.0" width="12.0" height="22.0" rx="0" stroke-width="1.68" fill="none"/>
<rect x="1355.0" y="328.0" width="13.0" height="24.0" rx="0" stroke-width="1.68" fill="none"/>
<rect x="1368.0" y="335.0" width="12.0" height="15.0" rx="0" stroke-width="1.68" fill="none"/>
<polyline points="1336.7,300.0 1345.0,296.0 1380.0,296.0" stroke-width="1.68" fill="none"/>
<path d="M1336.7,300 Q1330,330 1338,358 L1395,362 L1412,358" stroke-width="1.56" fill="none"/>
<polyline points="1340.0,360.0 1330.0,370.0 1340.0,375.0 1365.0,375.0 1370.0,365.0" stroke-width="1.44" fill="none"/>
<path d="M1340,378 L1420,378 Q1430,375 1425,385 L1400,392 L1360,390 L1345,390" stroke-width="1.44" fill="none"/>
<path d="M1367,385 Q1385,380 1395,390 L1400,398 L1390,404 L1370,400 L1358,395" stroke-width="1.56" fill="none"/>
<polyline points="1420.0,298.0 1440.0,300.0 1445.0,330.0 1440.0,350.0" stroke-width="1.56" fill="none"/>
<path d="M1432,282 L1455,296 L1470,310 L1462,318 L1442,305 L1428,292 Z" stroke-width="1.68" fill="none"/>
<polyline points="1445.0,290.0 1458.0,292.0 1465.0,305.0" stroke-width="1.44" fill="none"/>
<polyline points="1441.0,305.0 1434.0,320.0 1432.0,340.0 1440.0,352.0 1450.0,360.0" stroke-width="1.44" fill="none"/>
<polyline points="1425.0,340.0 1425.0,360.0 1445.0,362.0 1450.0,375.0 1450.0,382.0" stroke-width="1.56" fill="none"/>
<polyline points="1412.0,356.0 1420.0,365.0 1440.0,372.0 1455.0,380.0" stroke-width="1.44" fill="none"/>
<line x1="1389.0" y1="277.0" x2="1389.0" y2="362.0" stroke-width="2.16"/>
<line x1="1397.0" y1="277.0" x2="1397.0" y2="362.0" stroke-width="2.16"/>
<rect x="1381.0" y="295.0" width="10.0" height="45.0" rx="0" stroke-width="1.8" fill="none"/>
<rect x="1409.0" y="295.0" width="13.0" height="46.0" rx="0" stroke-width="1.8" fill="none"/>
<rect x="1410.0" y="310.0" width="20.0" height="10.0" rx="0" stroke-width="1.56" fill="none"/>
<path d="M1340,300 Q1350,290 1380,292 L1400,292" stroke-width="1.92" fill="none"/>
<path d="M1338,340 Q1336,355 1350,362" stroke-width="1.68" fill="none"/>
<polyline points="1345.0,318.0 1352.0,318.0 1352.0,345.0 1345.0,345.0" stroke-width="1.56" fill="none"/>
<polyline points="1300.0,292.0 1318.0,292.0 1318.0,305.0 1330.0,310.0" stroke-width="1.56" fill="none"/>
<path d="M1270,238 Q1285,228 1300,236" stroke-width="1.56" fill="none"/>
<polyline points="1255.0,300.0 1262.0,300.0 1262.0,330.0" stroke-width="1.44" fill="none"/>
<path d="M1369.3,428 Q1369.3,416.4 1381,416.4 L1405,419 L1440,425 L1450,430 Q1465,440 1469.5,462 L1469.5,475 L1455,478 L1440,485.6 L1380,485.6 Q1369.3,485.6 1369.3,475 Z" stroke-width="1.68" fill="none"/>
<circle cx="1379.3" cy="427.4" r="5.8" stroke-width="1.44" fill="none"/>
<circle cx="1379.3" cy="474.7" r="5.8" stroke-width="1.44" fill="none"/>
<circle cx="1419.4" cy="474.7" r="5.8" stroke-width="1.44" fill="none"/>
<rect x="1455.0" y="465.0" width="10.0" height="20.0" rx="0" stroke-width="1.68" fill="none"/>
<path d="M1376,494 Q1400,502 1440,496 L1470,489" stroke-width="1.56" fill="none"/>
<path d="M1376,500 Q1410,508 1450,502 L1475,495" stroke-width="1.32" fill="none"/>
<circle cx="1453.0" cy="239.6" r="12.5" stroke-width="1.44" fill="none"/>
<circle cx="1427.6" cy="260.9" r="6.0" stroke-width="1.44" fill="none"/>
<circle cx="1302.3" cy="342.8" r="7.0" stroke-width="1.44" fill="none"/>
<circle cx="1307.4" cy="394.6" r="8.0" stroke-width="1.44" fill="none"/>
<circle cx="1281.9" cy="413.7" r="9.0" stroke-width="1.44" fill="none"/>
<circle cx="1260.0" cy="423.7" r="8.0" stroke-width="1.44" fill="none"/>
<circle cx="1312.9" cy="429.2" r="8.0" stroke-width="1.44" fill="none"/>
<circle cx="1296.5" cy="476.5" r="8.0" stroke-width="1.44" fill="none"/>
<circle cx="1314.7" cy="478.4" r="7.0" stroke-width="1.44" fill="none"/>
<circle cx="1431.3" cy="395.5" r="9.0" stroke-width="1.44" fill="none"/>
<circle cx="1435.8" cy="366.5" r="7.0" stroke-width="1.44" fill="none"/>
<circle cx="1270.0" cy="375.0" r="7.0" stroke-width="1.44" fill="none"/>
<circle cx="1290.0" cy="392.0" r="6.0" stroke-width="1.44" fill="none"/>
<circle cx="1300.0" cy="455.0" r="6.0" stroke-width="1.44" fill="none"/>
<circle cx="1285.0" cy="440.0" r="6.0" stroke-width="1.44" fill="none"/>
<path d="M1475,425 Q1462,440 1475,456" stroke-width="1.44" fill="none"/>
<path d="M1258,330 L1262,385 Q1268,400 1255,410 L1250,433.9" stroke-width="1.32" fill="none"/>
<polyline points="1262.0,445.0 1280.0,445.0 1285.0,460.0 1270.0,470.0 1275.0,490.0 1265.0,498.0" stroke-width="1.32" fill="none"/>
<polyline points="1290.0,340.0 1300.0,350.0 1290.0,365.0 1300.0,370.0" stroke-width="1.32" fill="none"/>
<rect x="1288.0" y="333.0" width="10.0" height="12.0" rx="0" stroke-width="1.56" fill="none"/>
<polyline points="1250.0,420.0 1245.0,435.0 1255.0,455.0 1262.0,470.0 1262.0,490.0" stroke-width="1.32" fill="none"/>
<polyline points="1249.0,492.0 1275.0,492.0 1290.0,490.0 1300.0,492.0 1318.0,492.0" stroke-width="1.56" fill="none"/>
<line x1="1249.0" y1="480.0" x2="1262.0" y2="480.0" stroke-width="1.68"/>
<circle cx="1020.6" cy="251.8" r="8.8" stroke-width="1.56" fill="#fff"/>
<path d="M1024.9,248.20000000000002 A5.6,5.6 0 1 0 1024.9,255.4" stroke-width="3.36" fill="none"/>
<circle cx="1083.9" cy="241.3" r="8.8" stroke-width="1.56" fill="#fff"/>
<path d="M1088.2,237.70000000000002 A5.6,5.6 0 1 0 1088.2,244.9" stroke-width="3.36" fill="none"/>
<circle cx="1009.3" cy="285.7" r="8.8" stroke-width="1.56" fill="#fff"/>
<path d="M1013.5999999999999,282.09999999999997 A5.6,5.6 0 1 0 1013.5999999999999,289.3" stroke-width="3.36" fill="none"/>
<circle cx="1031.9" cy="293.3" r="8.8" stroke-width="1.56" fill="#fff"/>
<path d="M1036.2,289.7 A5.6,5.6 0 1 0 1036.2,296.90000000000003" stroke-width="3.36" fill="none"/>
<circle cx="1037.2" cy="324.2" r="8.8" stroke-width="1.56" fill="#fff"/>
<path d="M1041.5,320.59999999999997 A5.6,5.6 0 1 0 1041.5,327.8" stroke-width="3.36" fill="none"/>
<circle cx="1015.3" cy="333.2" r="8.8" stroke-width="1.56" fill="#fff"/>
<path d="M1019.5999999999999,329.59999999999997 A5.6,5.6 0 1 0 1019.5999999999999,336.8" stroke-width="3.36" fill="none"/>
<circle cx="1015.3" cy="401.2" r="8.8" stroke-width="1.56" fill="#fff"/>
<path d="M1019.5999999999999,397.59999999999997 A5.6,5.6 0 1 0 1019.5999999999999,404.8" stroke-width="3.36" fill="none"/>
<circle cx="1028.4" cy="420.8" r="8.8" stroke-width="1.56" fill="#fff"/>
<path d="M1032.7,417.2 A5.6,5.6 0 1 0 1032.7,424.40000000000003" stroke-width="3.36" fill="none"/>
<circle cx="1022.7" cy="444.5" r="8.8" stroke-width="1.56" fill="#fff"/>
<path d="M1027.0,440.9 A5.6,5.6 0 1 0 1027.0,448.1" stroke-width="3.36" fill="none"/>
<circle cx="1193.3" cy="432.3" r="8.8" stroke-width="1.56" fill="#fff"/>
<path d="M1197.6,428.7 A5.6,5.6 0 1 0 1197.6,435.90000000000003" stroke-width="3.36" fill="none"/>
<circle cx="1253.0" cy="262.6" r="8.8" stroke-width="1.56" fill="#fff"/>
<path d="M1257.3,259.0 A5.6,5.6 0 1 0 1257.3,266.20000000000005" stroke-width="3.36" fill="none"/>
<circle cx="1308.8" cy="240.4" r="8.8" stroke-width="1.56" fill="#fff"/>
<path d="M1313.1,236.8 A5.6,5.6 0 1 0 1313.1,244.0" stroke-width="3.36" fill="none"/>
<circle cx="1310.4" cy="282.2" r="8.8" stroke-width="1.56" fill="#fff"/>
<path d="M1314.7,278.59999999999997 A5.6,5.6 0 1 0 1314.7,285.8" stroke-width="3.36" fill="none"/>
<circle cx="1369.4" cy="249.4" r="8.8" stroke-width="1.56" fill="#fff"/>
<path d="M1373.7,245.8 A5.6,5.6 0 1 0 1373.7,253.0" stroke-width="3.36" fill="none"/>
<circle cx="1427.1" cy="239.7" r="8.8" stroke-width="1.56" fill="#fff"/>
<path d="M1431.3999999999999,236.1 A5.6,5.6 0 1 0 1431.3999999999999,243.29999999999998" stroke-width="3.36" fill="none"/>
<circle cx="1430.0" cy="278.1" r="8.8" stroke-width="1.56" fill="#fff"/>
<path d="M1434.3,274.5 A5.6,5.6 0 1 0 1434.3,281.70000000000005" stroke-width="3.36" fill="none"/>
<circle cx="1464.4" cy="324.0" r="8.8" stroke-width="1.56" fill="#fff"/>
<path d="M1468.7,320.4 A5.6,5.6 0 1 0 1468.7,327.6" stroke-width="3.36" fill="none"/>
<circle cx="1462.8" cy="366.5" r="8.8" stroke-width="1.56" fill="#fff"/>
<path d="M1467.1,362.9 A5.6,5.6 0 1 0 1467.1,370.1" stroke-width="3.36" fill="none"/>
<circle cx="1452.2" cy="412.8" r="8.8" stroke-width="1.56" fill="#fff"/>
<path d="M1456.5,409.2 A5.6,5.6 0 1 0 1456.5,416.40000000000003" stroke-width="3.36" fill="none"/>
<circle cx="1316.2" cy="355.9" r="8.8" stroke-width="1.56" fill="#fff"/>
<path d="M1320.5,352.29999999999995 A5.6,5.6 0 1 0 1320.5,359.5" stroke-width="3.36" fill="none"/>
<circle cx="1271.0" cy="494.8" r="8.8" stroke-width="1.56" fill="#fff"/>
<path d="M1275.3,491.2 A5.6,5.6 0 1 0 1275.3,498.40000000000003" stroke-width="3.36" fill="none"/>
<circle cx="1364.8" cy="494.8" r="8.8" stroke-width="1.56" fill="#fff"/>
<path d="M1369.1,491.2 A5.6,5.6 0 1 0 1369.1,498.40000000000003" stroke-width="3.36" fill="none"/>
<circle cx="1120.8" cy="335.0" r="8.8" stroke-width="1.56" fill="#fff"/>
<path d="M1125.1,331.4 A5.6,5.6 0 1 0 1125.1,338.6" stroke-width="3.36" fill="none"/>
<circle cx="1120.8" cy="380.0" r="8.8" stroke-width="1.56" fill="#fff"/>
<path d="M1125.1,376.4 A5.6,5.6 0 1 0 1125.1,383.6" stroke-width="3.36" fill="none"/>
<circle cx="1362.9" cy="368.2" r="10.0" stroke-width="1.44" fill="#fff"/>
<circle cx="1362.9" cy="368.2" r="6.5" stroke-width="1.92" fill="none"/>
<circle cx="1435.8" cy="366.5" r="8.0" stroke-width="1.44" fill="#fff"/>
<circle cx="1435.8" cy="366.5" r="5.0" stroke-width="1.68" fill="none"/>
<line x1="1049.0" y1="150.0" x2="1020.6" y2="251.8" stroke-width="1.2"/>
<line x1="1049.0" y1="150.0" x2="1031.9" y2="293.3" stroke-width="1.2"/>
<line x1="1117.5" y1="150.0" x2="1083.9" y2="241.3" stroke-width="1.2"/>
<line x1="1233.8" y1="152.5" x2="1253.0" y2="262.6" stroke-width="1.2"/>
<line x1="1233.8" y1="152.5" x2="1308.8" y2="240.4" stroke-width="1.2"/>
<line x1="1233.8" y1="152.5" x2="1310.4" y2="282.2" stroke-width="1.2"/>
<line x1="1233.8" y1="152.5" x2="1369.4" y2="249.4" stroke-width="1.2"/>
<line x1="1469.4" y1="150.3" x2="1427.1" y2="240.4" stroke-width="1.2"/>
<line x1="935.4" y1="239.0" x2="1009.3" y2="285.7" stroke-width="1.2"/>
<line x1="935.4" y1="239.0" x2="1037.2" y2="324.2" stroke-width="1.2"/>
<line x1="936.2" y1="306.8" x2="1015.3" y2="333.2" stroke-width="1.2"/>
<line x1="936.5" y1="372.0" x2="1120.8" y2="335.0" stroke-width="1.2"/>
<line x1="936.5" y1="372.0" x2="1120.8" y2="380.0" stroke-width="1.2"/>
<line x1="935.0" y1="458.0" x2="1015.3" y2="401.2" stroke-width="1.2"/>
<line x1="935.0" y1="458.0" x2="1022.7" y2="444.5" stroke-width="1.2"/>
<line x1="1089.0" y1="594.3" x2="1028.4" y2="420.8" stroke-width="1.2"/>
<line x1="1179.5" y1="594.3" x2="1316.2" y2="355.9" stroke-width="1.2"/>
<line x1="1316.4" y1="594.3" x2="1271.0" y2="494.8" stroke-width="1.2"/>
<line x1="1316.4" y1="594.3" x2="1364.8" y2="494.8" stroke-width="1.2"/>
<line x1="1554.5" y1="350.0" x2="1464.4" y2="324.0" stroke-width="1.2"/>
<line x1="1554.5" y1="350.0" x2="1462.8" y2="366.5" stroke-width="1.2"/>
<line x1="1554.5" y1="350.0" x2="1452.2" y2="412.8" stroke-width="1.2"/>
<line x1="1554.5" y1="350.0" x2="1430.0" y2="278.1" stroke-width="1.2"/>
<line x1="1089.0" y1="594.3" x2="1193.3" y2="432.3" stroke-width="1.2" stroke-dasharray="3 3"/>
<circle cx="1049.3" cy="137.0" r="13.0" stroke-width="1.32" fill="#fff"/>
<text transform="translate(1049.30,143.00) scale(1,1.0)" class="t" font-size="16" letter-spacing="0" word-spacing="0" text-anchor="middle">A</text>
<circle cx="1120.8" cy="137.0" r="13.0" stroke-width="1.32" fill="#fff"/>
<text transform="translate(1120.80,143.00) scale(1,1.0)" class="t" font-size="16" letter-spacing="0" word-spacing="0" text-anchor="middle">E</text>
<circle cx="1227.0" cy="137.0" r="13.0" stroke-width="1.32" fill="#fff"/>
<text transform="translate(1227.00,143.00) scale(1,1.0)" class="t" font-size="16" letter-spacing="0" word-spacing="0" text-anchor="middle">B</text>
<circle cx="1471.7" cy="137.0" r="13.0" stroke-width="1.32" fill="#fff"/>
<text transform="translate(1471.70,143.00) scale(1,1.0)" class="t" font-size="16" letter-spacing="0" word-spacing="0" text-anchor="middle">E</text>
<circle cx="923.4" cy="232.2" r="13.0" stroke-width="1.32" fill="#fff"/>
<text transform="translate(923.40,238.20) scale(1,1.0)" class="t" font-size="16" letter-spacing="0" word-spacing="0" text-anchor="middle">C</text>
<circle cx="923.4" cy="301.6" r="13.0" stroke-width="1.32" fill="#fff"/>
<text transform="translate(923.40,307.60) scale(1,1.0)" class="t" font-size="16" letter-spacing="0" word-spacing="0" text-anchor="middle">A</text>
<circle cx="923.9" cy="370.0" r="13.0" stroke-width="1.32" fill="#fff"/>
<text transform="translate(923.90,376.00) scale(1,1.0)" class="t" font-size="16" letter-spacing="0" word-spacing="0" text-anchor="middle">B</text>
<circle cx="922.6" cy="462.5" r="13.0" stroke-width="1.32" fill="#fff"/>
<text transform="translate(922.60,468.50) scale(1,1.0)" class="t" font-size="16" letter-spacing="0" word-spacing="0" text-anchor="middle">A</text>
<circle cx="1089.0" cy="607.3" r="13.0" stroke-width="1.32" fill="#fff"/>
<text transform="translate(1089.00,613.30) scale(1,1.0)" class="t" font-size="16" letter-spacing="0" word-spacing="0" text-anchor="middle">C</text>
<circle cx="1179.5" cy="607.3" r="13.0" stroke-width="1.32" fill="#fff"/>
<text transform="translate(1179.50,613.30) scale(1,1.0)" class="t" font-size="16" letter-spacing="0" word-spacing="0" text-anchor="middle">D</text>
<circle cx="1316.4" cy="607.3" r="13.0" stroke-width="1.32" fill="#fff"/>
<text transform="translate(1316.40,613.30) scale(1,1.0)" class="t" font-size="16" letter-spacing="0" word-spacing="0" text-anchor="middle">A</text>
<circle cx="1567.2" cy="347.3" r="13.0" stroke-width="1.32" fill="#fff"/>
<text transform="translate(1567.20,353.30) scale(1,1.0)" class="t" font-size="16" letter-spacing="0" word-spacing="0" text-anchor="middle">B</text>
<text transform="translate(1281.20,682.50) scale(1,1.0)" class="t" font-size="16" letter-spacing="0" word-spacing="0" text-anchor="middle">L</text>
<line x1="1233.2" y1="687.0" x2="1328.7" y2="687.0" stroke-width="1.1"/>
<path d="M1233.2,687 L1241,684.5 L1241,689.5 Z" stroke-width="1.0" fill="#000"/>
<path d="M1328.7,687 L1321,684.5 L1321,689.5 Z" stroke-width="1.0" fill="#000"/>
<line x1="1233.2" y1="679.5" x2="1233.2" y2="724.6" stroke-width="1.0"/>
<line x1="1328.7" y1="679.5" x2="1328.7" y2="724.6" stroke-width="1.0"/>
<path d="M1218.1,722 Q1218.1,718.6 1222,718.6 L1229,718.6 L1229,750.1 L1222,750.1 Q1218.1,750.1 1218.1,746 Z" stroke-width="1.6" fill="#fff"/>
<rect x="1229.0" y="716.5" width="4.2" height="35.6" rx="1.5" stroke-width="1.6" fill="#fff"/>
<line x1="1218.1" y1="727.0" x2="1229.0" y2="727.0" stroke-width="1.0"/>
<line x1="1218.1" y1="741.0" x2="1229.0" y2="741.0" stroke-width="1.0"/>
<rect x="1233.2" y="727.6" width="95.5" height="13.5" rx="0" stroke-width="1.6" fill="#fff"/>
<line x1="1279.0" y1="728.5" x2="1280.5" y2="740.5" stroke-width="1.1"/>
<line x1="1283.3" y1="728.5" x2="1284.8" y2="740.5" stroke-width="1.1"/>
<line x1="1287.6" y1="728.5" x2="1289.1" y2="740.5" stroke-width="1.1"/>
<line x1="1291.9" y1="728.5" x2="1293.4" y2="740.5" stroke-width="1.1"/>
<line x1="1296.2" y1="728.5" x2="1297.7" y2="740.5" stroke-width="1.1"/>
<line x1="1300.5" y1="728.5" x2="1302.0" y2="740.5" stroke-width="1.1"/>
<line x1="1304.8" y1="728.5" x2="1306.3" y2="740.5" stroke-width="1.1"/>
<line x1="1309.1" y1="728.5" x2="1310.6" y2="740.5" stroke-width="1.1"/>
<line x1="1313.4" y1="728.5" x2="1314.9" y2="740.5" stroke-width="1.1"/>
<line x1="1317.7" y1="728.5" x2="1319.2" y2="740.5" stroke-width="1.1"/>
<line x1="1322.0" y1="728.5" x2="1323.5" y2="740.5" stroke-width="1.1"/>
<rect x="1122.6" y="773.5" width="283.3" height="198.3" rx="0" stroke-width="1.4" fill="none"/>
<line x1="1122.6" y1="803.6" x2="1405.9" y2="803.6" stroke-width="1.2"/>
<line x1="1122.6" y1="807.2" x2="1405.9" y2="807.2" stroke-width="1.2"/>
<line x1="1157.5" y1="773.5" x2="1157.5" y2="971.8" stroke-width="1.3"/>
<line x1="1320.3" y1="773.5" x2="1320.3" y2="971.8" stroke-width="1.3"/>
<line x1="1365.3" y1="773.5" x2="1365.3" y2="971.8" stroke-width="1.3"/>
<line x1="1122.6" y1="840.2" x2="1405.9" y2="840.2" stroke-width="1.2"/>
<line x1="1122.6" y1="873.9" x2="1405.9" y2="873.9" stroke-width="1.2"/>
<line x1="1122.6" y1="906.9" x2="1405.9" y2="906.9" stroke-width="1.2"/>
<line x1="1122.6" y1="939.4" x2="1405.9" y2="939.4" stroke-width="1.2"/>
<line x1="1122.6" y1="773.5" x2="1157.5" y2="803.6" stroke-width="1.0"/>
<text transform="translate(1239.50,796.70) scale(1,1.0)" class="t" font-size="16" letter-spacing="2.0" word-spacing="0" text-anchor="middle">PART NO.</text>
<text transform="translate(1342.80,796.70) scale(1,1.0)" class="t" font-size="16" letter-spacing="0" word-spacing="0" text-anchor="middle">L</text>
<text transform="translate(1385.80,796.70) scale(1,1.0)" class="t" font-size="16" letter-spacing="-0.5" word-spacing="0" text-anchor="middle">QTY</text>
<text transform="translate(1140,830.20)" class="t" font-size="17" font-weight="bold" text-anchor="middle">A</text>
<text transform="translate(1181.50,833.20) scale(1,1.1)" class="m" font-size="17.6">91511-</text>
<text transform="translate(1244.86,833.20) scale(1,1.1)" class="m" font-size="17.6">C</text>
<text transform="translate(1255.42,833.20) scale(1,1.1)" class="m" font-size="17.6">0635</text>
<text transform="translate(1342.80,831.20) scale(1,1.0)" class="t" font-size="19.5" letter-spacing="0" word-spacing="0" text-anchor="middle">35</text>
<text transform="translate(1385.80,831.20) scale(1,1.0)" class="t" font-size="19.5" letter-spacing="0" word-spacing="0" text-anchor="middle">7</text>
<text transform="translate(1140,863.55)" class="t" font-size="17" font-weight="bold" text-anchor="middle">B</text>
<text transform="translate(1181.50,866.55) scale(1,1.1)" class="m" font-size="17.6">90105-06018</text>
<text transform="translate(1342.80,864.55) scale(1,1.0)" class="t" font-size="19.5" letter-spacing="0" word-spacing="0" text-anchor="middle">28</text>
<text transform="translate(1385.80,864.55) scale(1,1.0)" class="t" font-size="19.5" letter-spacing="0" word-spacing="0" text-anchor="middle">10</text>
<text transform="translate(1140,896.90)" class="t" font-size="17" font-weight="bold" text-anchor="middle">C</text>
<text transform="translate(1181.50,899.90) scale(1,1.1)" class="m" font-size="17.6">90105-06049</text>
<text transform="translate(1342.80,897.90) scale(1,1.0)" class="t" font-size="19.5" letter-spacing="0" word-spacing="0" text-anchor="middle">12</text>
<text transform="translate(1385.80,897.90) scale(1,1.0)" class="t" font-size="19.5" letter-spacing="0" word-spacing="0" text-anchor="middle">4</text>
<text transform="translate(1140,929.65)" class="t" font-size="17" font-weight="bold" text-anchor="middle">D</text>
<text transform="translate(1181.50,932.65) scale(1,1.1)" class="m" font-size="17.6">90105-06055</text>
<text transform="translate(1342.80,930.65) scale(1,1.0)" class="t" font-size="19.5" letter-spacing="0" word-spacing="0" text-anchor="middle">55</text>
<text transform="translate(1385.80,930.65) scale(1,1.0)" class="t" font-size="19.5" letter-spacing="0" word-spacing="0" text-anchor="middle">1</text>
<text transform="translate(1140,962.10)" class="t" font-size="17" font-weight="bold" text-anchor="middle">E</text>
<text transform="translate(1181.50,965.10) scale(1,1.1)" class="m" font-size="17.6">91511-</text>
<text transform="translate(1244.86,965.10) scale(1,1.1)" class="m" font-size="17.6">C</text>
<text transform="translate(1255.42,965.10) scale(1,1.1)" class="m" font-size="17.6">0622</text>
<text transform="translate(1342.80,963.10) scale(1,1.0)" class="t" font-size="19.5" letter-spacing="0" word-spacing="0" text-anchor="middle">22</text>
<text transform="translate(1385.80,963.10) scale(1,1.0)" class="t" font-size="19.5" letter-spacing="0" word-spacing="0" text-anchor="middle">2</text>
</svg></body></html>
